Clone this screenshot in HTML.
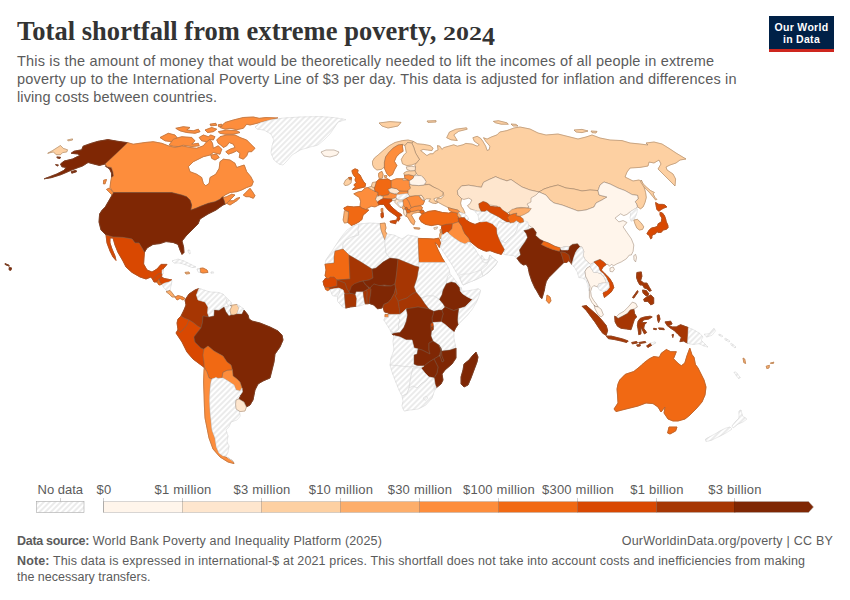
<!DOCTYPE html>
<html><head><meta charset="utf-8">
<style>
html,body{margin:0;padding:0;background:#fff;}
body{width:850px;height:600px;position:relative;overflow:hidden;font-family:"Liberation Sans",sans-serif;}
.abs{position:absolute;white-space:nowrap;}
#title{left:17px;top:14.8px;font-family:"Liberation Serif",serif;font-weight:bold;font-size:26.5px;line-height:32px;color:#333;letter-spacing:0.03px;}
.os{display:inline-block;position:relative;font-size:19.5px;width:9.75px;margin-right:3.2px;transform:scaleX(1.33);transform-origin:left bottom;line-height:1;}
.sub{left:17px;font-size:14.5px;line-height:18px;color:#5b5b5b;letter-spacing:0.19px;}
#logo{left:769px;top:16px;width:65px;height:33px;background:#002147;border-bottom:3px solid #ce261e;color:#fff;font-weight:bold;font-size:10.5px;line-height:12px;text-align:center;letter-spacing:0.3px;}
.lg{font-size:13px;color:#5b5b5b;line-height:14px;top:483px;letter-spacing:0.22px;}
.ft{font-size:12.5px;color:#5b5b5b;line-height:16px;}
.ft b{color:#5b5b5b;}
</style></head><body>
<div id="title" class="abs">Total shortfall from extreme poverty, <span class="os">2</span><span class="os">0</span><span class="os">2</span><span class="os" style="top:5.4px;font-size:24.5px;width:12.25px;transform:scaleX(1.06);margin-right:0">4</span></div>
<div class="abs sub" id="s1" style="top:52.4px">This is the amount of money that would be theoretically needed to lift the incomes of all people in extreme</div>
<div class="abs sub" id="s2" style="top:70.4px">poverty up to the International Poverty Line of $3 per day. This data is adjusted for inflation and differences in</div>
<div class="abs sub" id="s3" style="top:88.4px;letter-spacing:0.11px">living costs between countries.</div>
<div id="logo" class="abs"><div style="margin-top:5px" id="lg1">Our World</div><div id="lg2">in Data</div></div>
<svg id="map" class="abs" style="left:0;top:0" width="850" height="600" viewBox="0 0 850 600">
<defs>
<pattern id="hatch" width="4" height="4" patternUnits="userSpaceOnUse" patternTransform="rotate(45)"><rect width="4" height="4" fill="#fff"/><line x1="2" y1="0" x2="2" y2="4" stroke="#e5e5e5" stroke-width="1.5"/></pattern>
</defs>
<g stroke-linejoin="round" stroke-width="0.9">
<path d="M413.1 141.3L417.5 143.8L423.8 144.4L430 145.6L433.1 148.1L431.9 150.6L427.5 150L423.1 149.4L420.6 150.6L423.8 153.1L426.9 155.6L430 153.8L433.1 153.8L435 151.3L438.1 150L437.5 145.6L440 146.3L441.9 149.4L443.9 147.6L448.8 146.2L453.8 144.8L457.3 146.2L463 144.8L465.8 143.4L472.2 144.1L477.2 146.2L479.3 144.8L474.3 141.2L472.9 137.7L477.2 136.3L480.7 138.4L482.8 141.2L485.7 146.2L487.1 150.5L489.2 149.7L489.9 146.2L485.7 141.2L483.5 137.7L487.1 139.1L491.3 137L497 134.9L499.8 132L506.9 130.6L514 128L520 127L530 129L538 133L546 135L558 134L570 137L578 139L586 137L592 135L600 138L610 140L622 140.6L630 143L640 144L648 145L646 143L654 142L662 144L670 149L676 153L686 159L680 160L676 163L670 165L666 167L667 170L673 174L675.6 179L675 186L671 182L666 177L661 172L658 169L661 164L659 160L654 163L649 162L648 166L640 167.4L630 168L627 172L625 177L633 181L639 180L641.3 181.3L643.8 186.3L645.6 192.5L646.3 197.5L645 202.5L643.1 206.9L640.6 208.8L637.5 206.9L636.3 203.1L635 201.9L638.1 198.8L637.6 195.4L632 194.6L625 190.6L618 188L610 184L604 182L600 185L598 190.6L590 190L582 191L574 189L566 188L558 185L550 187L544 189L539 192L530 190L522 187L516 183L511 179.5L506.9 180.9L500.5 178.8L495.6 176.7L489.2 179.5L483.5 182.3L481.4 187.3L477.2 186.6L468.7 185.2L461.6 185.9L457.3 190.8L458 195L461.6 198.6L460.6 203.1L461.3 206.3L463.1 208.8L465 213.1L464.4 213.8L460.6 212.5L457.5 210L452.5 208.8L448.1 207.5L443 205L438.5 202.5L436 203L436.1 200.7L437.5 198.6L441 198.6L443.9 195.8L443.2 192.2L438.9 190.1L434 187.3L429.7 184.4L424.7 184.4L425.5 180.9L423.3 177.4L419.1 175.9L416.3 173.8L415 170.6L415.6 166.9L414.8 165L416.3 163.1L419.4 159.4L415.6 153.1L413.8 147.5L411.9 143.1Z" fill="#fdd0a2" stroke="#fdd0a2"/>
<path d="M446.7 137.7L449.5 132L455.9 129.2L466.5 127.8L467.2 129.2L458.7 131.3L453.8 134.9L457.3 140.5L451 139.8Z" fill="#fdd0a2" stroke="#fdd0a2"/>
<path d="M493.4 121.4L498.4 120.7L506.9 122.8L508.3 124.2L501.2 124.2L495.6 122.8Z" fill="#fdd0a2" stroke="#fdd0a2"/>
<path d="M511 124L516 124.4L518 126L513 126Z" fill="#fdd0a2" stroke="#fdd0a2"/>
<path d="M427 121L436 120.6L436 122L428 122.4Z" fill="#fdd0a2" stroke="#fdd0a2"/>
<path d="M574 130L582 129.4L588 131L582 132.6L576 132Z" fill="#fdd0a2" stroke="#fdd0a2"/>
<path d="M591 131L597 131.4L596 133L592 132.6Z" fill="#fdd0a2" stroke="#fdd0a2"/>
<path d="M641.3 180L643.1 183.8L646.9 187.5L650.6 190.6L654.4 192.5L653.1 193.8L655 197.5L656.9 199.4L655.6 200L653.1 196.9L650 193.1L646.3 189.4L643.1 185.6L640.6 181.9Z" fill="#fdd0a2" stroke="#fdd0a2"/>
<path d="M457.3 190.8L461.6 185.9L468.7 185.2L477.2 186.6L481.4 187.3L483.5 182.3L489.2 179.5L495.6 176.7L500.5 178.8L506.9 180.9L511 179.5L516 183L522 187L530 190L539 192L538 195L533 198L532 203L529 205L528 208L526 208L521 207.4L516 208L512 211L507 213L502 210L497 206L490 205L485 202L478.8 203.8L479.4 207.5L481.3 211.3L477.5 211.3L473.8 210L470 208.8L467.5 205.6L470 203.8L471.9 200L468.8 198.1L463.8 199.4L461.6 198.6L458 195Z" fill="#fee6ce" stroke="#fee6ce"/>
<path d="M539 192L544 189L550 187L558 185L566 188L574 189L582 191L590 190L598 190.6L599 195L607 197L602 200L596 203L594 207L586 210L578 211L570 208L562 205L554 203L550 200L546 195Z" fill="#fdd0a2" stroke="#fdd0a2"/>
<path d="M539 192L546 195L550 200L554 203L562 205L570 208L578 211L586 210L594 207L596 203L602 200L607 197L599 195L598 190.6L600 185L604 182L610 184L618 188L625 190.6L632 194.6L637.6 195.4L638.1 198.8L635 201.9L636.3 203.1L637.5 206.9L636.3 208.1L633.1 210L630 211.9L626.9 214.4L623.8 215.6L620.6 213.8L615 218.1L618.8 221.9L623.1 220.6L626.9 222.5L623.1 226.9L626.9 232.5L631.3 238.8L633.8 245L633.1 251.3L631.3 255L629.4 255L626.3 258.8L621.3 261.9L616.9 263.8L613.8 265.6L611.3 264.4L609.4 266.3L608.1 264.4L606.3 264.4L603.8 261.9L600 259.4L593.8 261.9L593.1 263.1L590.6 264.4L588.1 262.5L585 259.4L583.1 255.6L583.8 251.3L581.9 246.9L580 246.9L577.5 243.8L572.5 244.4L570 246.3L568.8 247L565 246.5L560.6 248.1L555 246.3L548.8 243.1L543.8 241.3L540 239.4L535.6 235.6L536.3 232.5L533.1 228.1L531 227L526 223L522 222L520 217L520 214L526 212L529 207L527 204L531 202L531 198L536 195Z" fill="#fff5eb" stroke="#fff5eb"/>
<path d="M610 268.1L613.1 266.9L614.4 269.4L612.5 271.9L610 271.3Z" fill="#fff5eb" stroke="#fff5eb"/>
<path d="M633.8 255.6L635.6 254.4L636.5 257.5L635.6 261.9L634 260Z" fill="#fff5eb" stroke="#fff5eb"/>
<path d="M630 211.9L633.1 210L636.3 208.1L637.5 209.4L636.9 212.5L635.6 216.3L633.8 220L631.3 221.3L630 218.1L630.6 215Z" fill="url(#hatch)" stroke="url(#hatch)"/>
<path d="M633.8 220L637.5 219.4L641.3 223.1L643.8 226.9L642.5 229.4L639.4 230L636.9 228.1L635 223.8Z" fill="#fdd0a2" stroke="#fdd0a2"/>
<path d="M655.6 202.5L658.8 204.4L662.5 204.4L665 205L666.9 206.9L663.8 208.1L661.3 209.4L658.8 211.3L656.9 209.4L656.3 206.9Z" fill="#d94801" stroke="#d94801"/>
<path d="M660 212.3L662.5 213.1L664.4 215.6L665.6 218.8L666.3 221.9L667.8 225L668.1 227.5L666.3 229.4L663.1 230L661.3 232.3L658.1 232.5L657 231.5L655.5 233.8L653.8 234.4L651.9 235.6L651.9 238.1L650.6 238.8L649.4 235.6L646.9 233.8L648.8 230.6L651.3 228.1L655 227.3L657.5 226.3L658.1 223.8L661.3 221.9L661.9 218.1L660 215Z" fill="#d94801" stroke="#d94801"/>
<path d="M496.3 227.5L499 221L503 223L506.9 221.9L509.4 221.9L514 221L519 218L524 219L522 220L518 224L517 230L514 235L510 238L505 243L498.8 238.8L496.9 233.8Z" fill="url(#hatch)" stroke="url(#hatch)"/>
<path d="M505 243L510 238L514 235L517 230L518 224L522 220L528 222L528.8 229.4L523.8 230.6L526.3 233.8L527.5 237.5L525 241.9L521.9 246.3L519.4 250L520.6 255L516.9 258.1L513.8 255.6L508 255L503.8 254.4L504.4 250L501.3 246L498.8 238.8Z" fill="url(#hatch)" stroke="url(#hatch)"/>
<path d="M523.8 230.6L528.8 229.4L533.1 228.1L536.3 232.5L535.6 235.6L540 239.4L543.8 241.3L541.3 244.4L546.3 246.9L552.5 249.4L559.4 251.3L560.6 248.1L561.3 250L568.1 250L570 246.3L572.5 244.4L577.5 243.8L580 246.9L577.5 249.4L575.6 252.5L573.8 257.5L571.9 264.4L570 260L568.8 255L565 252.5L560.6 251.9L562.5 257.5L563.8 262.5L561.3 265L557.5 268.8L552.5 273.8L548.8 277.5L546.3 281.3L545 286.3L544.4 290L542 298.6L540.5 297.5L538 293L536.3 290L535 288.1L531.9 281.3L529.4 273.8L528.1 267.5L526.3 264.4L523.1 265L520 262.5L516.9 258.1L520.6 255L519.4 250L521.9 246.3L525 241.9L527.5 237.5L526.3 233.8Z" fill="#7f2704" stroke="#7f2704"/>
<path d="M543.8 241.3L548.8 243.1L555 246.3L560 247.8L560.6 248.1L559.4 251.3L552.5 249.4L546.3 246.9L541.3 244.4Z" fill="#f16913" stroke="#f16913"/>
<path d="M560.6 248.1L565 246.5L568.8 247L568.1 250L561.3 250Z" fill="url(#hatch)" stroke="url(#hatch)"/>
<path d="M560.6 251.9L565 252.5L568.8 255L570 260L571.9 264.4L568.8 260.6L566.9 262.5L563.8 262.5L562.5 257.5Z" fill="#a63603" stroke="#a63603"/>
<path d="M547 295L550 297L551 301L549 303.4L546.4 300.6Z" fill="#fd8d3c" stroke="#fd8d3c"/>
<path d="M571.9 264.4L573.8 257.5L575.6 252.5L577.5 249.4L580 246.9L581.9 246.9L583.8 251.3L583.1 255.6L585 259.4L588.1 262.5L590.6 264.4L590 266.3L586.9 268.1L585 271.3L585.6 276.3L588.1 281.3L590 286.3L589.4 291.3L588.6 290L588 285L586 280L582.5 278.1L578.8 277.5L577.5 272.5L575 268.1Z" fill="url(#hatch)" stroke="url(#hatch)"/>
<path d="M585 271.3L586.9 268.1L590 266.3L591.9 269.4L593.8 272.5L597.5 272.5L601.3 273.8L604.4 277.5L606.3 281.9L606.3 283.1L602.5 283.1L598.8 283.8L597.5 286.9L593.8 285.6L591.9 287.5L590.6 291.3L591.3 296.3L593.8 300.6L596.3 303.8L598.1 306.9L595 306.3L591.9 302.5L589.4 297.5L589.4 291.3L590 286.3L588.1 281.3L585.6 276.3Z" fill="#fff5eb" stroke="#fff5eb"/>
<path d="M590 266.3L590.6 264.4L593.1 263.1L593.8 261.9L596.3 264.4L598.8 266.9L600 270.6L603.8 273.8L606.9 278.1L608.8 282.5L606.3 283.1L606.3 281.9L604.4 277.5L601.3 273.8L597.5 272.5L593.8 272.5L591.9 269.4Z" fill="url(#hatch)" stroke="url(#hatch)"/>
<path d="M593.8 261.9L600 259.4L603.8 261.9L606.3 264.4L603.1 266.9L601.3 270L605 273.8L609.4 278.1L612.5 283.1L613.8 287.5L611.3 291.9L607.5 295L604.4 297.5L603.1 293.1L606.9 290.6L609.4 287.5L608.8 282.5L606.9 278.1L603.8 273.8L600 270.6L598.8 266.9L596.3 264.4Z" fill="#d94801" stroke="#d94801"/>
<path d="M597.5 286.9L598.8 283.8L602.5 283.1L606.3 283.1L608.8 282.5L609.4 287.5L606.9 290.6L603.1 291.3L599.4 290Z" fill="url(#hatch)" stroke="url(#hatch)"/>
<path d="M594.2 305L595 306.3L598.1 306.9L601.2 309.2L603.4 314.8L601.2 317L597.7 314.1L594.9 308.5Z" fill="#fff5eb" stroke="#fff5eb"/>
<path d="M420 216.9L422.5 213.8L428.8 211.3L435 210.6L442.5 212.5L448.8 213.1L452.5 211.9L457.5 213.1L457.5 215.6L459.4 218.1L458.1 218.1L458.8 221.9L458.1 221.9L452.5 223.8L446.3 224.4L441.9 225.6L438.1 224.4L431.3 225.6L425.6 224.4L421.3 221.9L419.4 218.8Z" fill="#f16913" stroke="#f16913"/>
<path d="M448.1 207.5L452.5 208.8L457.5 210L460.6 212.5L458.8 212.5L457.5 213.1L452.5 211.9L449.4 210.6Z" fill="#fd8d3c" stroke="#fd8d3c"/>
<path d="M457.5 213.1L458.8 212.5L460.6 215L461.9 217.5L459.4 218.1L457.5 215.6Z" fill="#fdae6b" stroke="#fdae6b"/>
<path d="M460.6 212.5L464.4 213.8L467.5 216.3L468.8 219.4L466.3 220L464.4 217.5L461.9 217.5L460.6 215L458.8 212.5Z" fill="url(#hatch)" stroke="url(#hatch)"/>
<path d="M441.9 225.6L446.3 224.4L452.5 223.8L451.9 228.8L448.1 232.5L447 232L443 235L442.3 232L441.5 228.1Z" fill="#d94801" stroke="#d94801"/>
<path d="M440 229.6L441.6 230L441.6 232L440.4 232.4Z" fill="#fdae6b" stroke="#fdae6b"/>
<path d="M440.4 232.4L441.6 232L442 235L441.4 239L440 238L439.6 235Z" fill="#fdae6b" stroke="#fdae6b"/>
<path d="M452.5 223.8L458.1 221.9L458.8 221.9L461.9 226.3L463.1 230L465 233.8L468.8 238.1L470.6 241.9L469 242L465 244L460 242L454 238L449 234L448.1 232.5L451.9 228.8Z" fill="#fd8d3c" stroke="#fd8d3c"/>
<path d="M458.1 218.1L459.4 218.1L461.9 217.5L464.4 217.5L466.3 220L470 222.5L475 224.4L481.3 221.9L486.3 221.3L492.5 223.8L496.3 227.5L496.9 233.8L498.8 238.8L501.3 243.8L504.4 249.4L501.3 254.4L495 252.5L490 250.6L486.3 251.3L482.5 250L477.5 247.5L473.8 244.4L470.6 241.9L468.8 238.1L465 233.8L463.1 230L461.9 226.3L458.8 221.9Z" fill="#d94801" stroke="#d94801"/>
<path d="M440 246.5L441.4 243L441.4 239L442 235L443 235L447 232L449 234L454 238L460 242L465 244L469 242L472 245L475 249L478 254L481 258L481.5 255L483 257L485 260L488 260L490 255L491.5 257L495 259.5L497.5 261.5L495.5 265L492 269L489 272L483 276L477 279L471 281.5L465 284L463 285L461 281L458.5 276L455 270L451.5 264L447.5 258L443.5 252Z" fill="url(#hatch)" stroke="url(#hatch)"/>
<path d="M459.5 275L463 274L469 274L475 272L481 270L483 276L477 279L471 281.5L465 284L463 285L461 281Z" fill="url(#hatch)" stroke="url(#hatch)"/>
<path d="M481 270L487 265L489 260L490 255L491.5 257L495 259.5L497.5 261.5L495.5 265L492 269L489 272L483 276Z" fill="url(#hatch)" stroke="url(#hatch)"/>
<path d="M481 258L485 260L488 260L490 255L489 260L487 263L483 262Z" fill="url(#hatch)" stroke="url(#hatch)"/>
<path d="M467 243L469 242L470.5 244L468.6 245.4Z" fill="url(#hatch)" stroke="url(#hatch)"/>
<path d="M442 235L443 235L447 232L449 234L449 236L446 240L442 241.6L441.4 239Z" fill="url(#hatch)" stroke="url(#hatch)"/>
<path d="M473.8 210L477.5 211.3L481.3 211.3L485 211.3L486.9 210L490 212.5L495 215L498.8 216.9L502.5 219.4L506.9 221.9L503 223L499 221L496.3 227.5L492.5 223.8L486.3 221.3L481.3 221.9L480.6 221.9L478.8 220L478.1 215Z" fill="url(#hatch)" stroke="url(#hatch)"/>
<path d="M478.8 203.8L483.1 201.3L487.5 203.1L490 206.3L495 206.9L500 206.9L502.5 210L506.3 212.5L508.8 215L512 211L516 212L511 215L513 218L509.4 221.9L506.9 221.9L502.5 219.4L498.8 216.9L495 215L490 212.5L486.9 210L485 211.3L481.3 211.3L479.4 207.5Z" fill="#d94801" stroke="#d94801"/>
<path d="M507.5 217.5L510 215L513.1 213.8L516.9 213.1L516.3 215.6L520 216.3L523.1 218.8L523.8 221.9L520 223.1L516.3 220.6L513.8 222.5L510 223.1L508.8 220Z" fill="#f16913" stroke="#f16913"/>
<path d="M508.8 212.5L511.9 209.4L517.5 208.1L525 207.8L531.3 208.5L528.8 211.9L524.4 214.4L520 216.3L516.3 215.6L516.9 213.1L513.1 213.8L510 215Z" fill="#fdae6b" stroke="#fdae6b"/>
<path d="M582.1 306.3L586.4 305.6L592 310.6L598.4 316.2L602.7 321.2L606.2 325.5L607.6 330.4L606.2 335.4L602.7 333.2L599.1 328.3L594.9 321.9L590.6 316.2L586.4 310.6Z" fill="#a63603" stroke="#a63603"/>
<path d="M606.2 336.1L611.2 336.1L616.8 337.5L622.5 338.9L628.2 341L626.7 342.5L621.1 341L614.7 339.6L608.3 338.6Z" fill="#a63603" stroke="#a63603"/>
<path d="M631.7 342.5L636.7 341.5L637.4 342.9L632.4 343.9Z" fill="#a63603" stroke="#a63603"/>
<path d="M638.8 342.5L645.2 341.5L645.9 342.5L639.5 343.6Z" fill="#a63603" stroke="#a63603"/>
<path d="M636.7 344.9L640.2 344.6L640.2 346L637.4 346.3Z" fill="#a63603" stroke="#a63603"/>
<path d="M646.6 346L650.8 343.2L652 345L648 347.4Z" fill="#a63603" stroke="#a63603"/>
<path d="M650.8 343.2L655 341.7L655.8 342.9L652 345Z" fill="url(#hatch)" stroke="url(#hatch)"/>
<path d="M616.1 317L618.9 314.1L623.9 311.3L628.2 307L632.4 302.1L635.9 303.5L637.4 307L633.8 309.2L630.3 309.9L627.5 313.4L622.5 316.2L618.2 318.4Z" fill="#fff5eb" stroke="#fff5eb"/>
<path d="M614.7 316.2L616.1 317L618.2 318.4L622.5 316.2L627.5 313.4L630.3 309.9L633.8 309.2L634.5 313.4L636.7 317L634.5 319.1L633.1 323.3L631 329.7L626.7 329L621.1 328.3L617.5 326.2L615.1 321.9Z" fill="#a63603" stroke="#a63603"/>
<path d="M638.1 321.2L640.2 318.4L644.4 317L650.1 316.2L652.2 317L648.7 319.1L643.7 319.8L641.6 322.6L646.6 322.6L644.4 324.7L643.7 328.3L646.6 332.5L644.4 333.9L642.3 329.7L640.9 327.6L640.9 333.9L638.8 334.7L638.1 329L637.4 325.5Z" fill="#a63603" stroke="#a63603"/>
<path d="M657.2 315.5L659 314.8L660 319.1L658.6 322.6L657.6 319.8Z" fill="#a63603" stroke="#a63603"/>
<path d="M658.6 327.9L663.6 328.3L664.3 329.7L659.3 329.3Z" fill="#a63603" stroke="#a63603"/>
<path d="M653.7 328.3L656.5 328.7L656.2 329.7L653.7 329.4Z" fill="#a63603" stroke="#a63603"/>
<path d="M672 334.7L673.5 334.4L672.8 337.5Z" fill="#a63603" stroke="#a63603"/>
<path d="M665 321.9L670.7 321.2L672.1 324L668.5 325.5L672.1 326.9L676.3 326.9L680.6 324.7L688.4 327.6L687.6 343.2L683.4 341L679.9 341.7L681.3 337.5L677.7 334L674.2 330.4L670.7 328.3L667.1 325.5Z" fill="#a63603" stroke="#a63603"/>
<path d="M688.4 327.6L694 330L700 333.6L703 337L701 340L704 343L708 347L704 346L699 343.6L694 344.4L690 344L687.6 343.2Z" fill="url(#hatch)" stroke="url(#hatch)"/>
<path d="M704 334.4L709.4 333.5L713.8 328.2L715.6 330.9L712 335.3L706.8 337Z" fill="url(#hatch)" stroke="url(#hatch)"/>
<path d="M636.9 272.5L641.3 271.9L641.9 276.3L640.6 280.6L643.8 283.1L646.9 283.1L649.4 287.5L651.3 290.6L649.4 291.3L646.9 288.8L644.4 288.1L642.5 285L640 285L638.1 281.9L636.5 277.5Z" fill="#a63603" stroke="#a63603"/>
<path d="M642.5 290L646.3 290.6L648.8 293.8L647.5 296.3L645 295L643.1 293.1Z" fill="#a63603" stroke="#a63603"/>
<path d="M643.7 299.2L646.6 297.1L650.8 295L653.7 297.8L653.7 303.5L650.8 304.9L648 301.4L644.4 301.4Z" fill="#a63603" stroke="#a63603"/>
<path d="M632.5 297.5L637.5 290.6L638.1 291.9L633.8 298.1Z" fill="#a63603" stroke="#a63603"/>
<path d="M618 384L619.7 380L625.3 374.3L633.8 371.5L640.9 365.8L643.7 363L649.4 358.7L653.7 356.6L659.3 357.3L661.4 353.1L666.4 349.5L670.7 351.7L676.3 351.7L673.5 358.7L677.7 363L681.3 365.8L684.8 363L686.9 355.9L689.8 348.1L691.9 354.5L694 357.3L695.4 364.4L698 368L701 374L704 380L706 387L705 395L702 402L696 409L690 415L685 419L678 421L673 421L668 419L664 413L665 407L661 412L658 407L653 403.6L646 403L638 406L630 408L622 410L616 411.6L614 409L618 403L617.6 396L617 389Z" fill="#f16913" stroke="#f16913"/>
<path d="M669 427L677 427L675.6 431L670 434L667.6 433Z" fill="#f16913" stroke="#f16913"/>
<path d="M739 411L741 410L742.4 416L747 419L743 422L738 424L733 428L732 426L736 421L739 418Z" fill="url(#hatch)" stroke="url(#hatch)"/>
<path d="M730 427L732 429L726 433L718 437L712 440L706 441.6L705.6 439L712 435.6L720 431L726 428Z" fill="url(#hatch)" stroke="url(#hatch)"/>
<path d="M734 372.4L735.9 372L740.3 377.6L738.5 378.5Z" fill="url(#hatch)" stroke="url(#hatch)"/>
<path d="M743 358L744.7 359L745.6 363.5L743.8 362.6Z" fill="#fdae6b" stroke="#fdae6b"/>
<path d="M766.2 366.2L769.4 365.3L769 368L766.8 368.5Z" fill="#fdae6b" stroke="#fdae6b"/>
<path d="M770.3 363.2L773.8 362.1L773.3 363.5Z" fill="#fdae6b" stroke="#fdae6b"/>
<path d="M719 334L723 336L722 337L718.6 335Z" fill="url(#hatch)" stroke="url(#hatch)"/>
<path d="M725 338L730 341L729 342L724.6 339.4Z" fill="url(#hatch)" stroke="url(#hatch)"/>
<path d="M731 343L736 347L735 348L730.6 344.4Z" fill="url(#hatch)" stroke="url(#hatch)"/>
<path d="M379 123L390 121.6L401 122.4L398 126L388 128L382 126Z" fill="#fdd0a2" stroke="#fdd0a2"/>
<path d="M372.5 161.3L374.4 158.1L378.8 154.4L383.8 150L389.4 145.6L395 142.5L402.5 140.6L408.1 140L413.1 141.3L411.9 143.1L407.5 142.5L405 145.6L402.5 144.4L398.1 145L393.1 148.1L388.8 152.5L385.6 156.9L384.4 162.5L384.4 168.1L383.8 167.5L381.3 169.4L376.9 170L373.8 167.5L372.5 164.4Z" fill="#fdd0a2" stroke="#fdd0a2"/>
<path d="M398.1 145L402.5 144.4L402.5 146.9L403.1 151.3L400 153.1L396.3 156.9L394.4 161.3L396.9 165.6L394.4 170L392.5 174.4L389.4 176.3L386.9 173.8L384.4 168.1L384.4 162.5L385.6 156.9L388.8 152.5L393.1 148.1Z" fill="#fd8d3c" stroke="#fd8d3c"/>
<path d="M405 145.6L407.5 142.5L411.9 143.1L413.8 147.5L415.6 153.1L419.4 159.4L416.3 163.1L411.9 165L406.9 165.6L402.5 163.8L401.3 159.4L403.8 155L406.3 152.5L405.6 148.8Z" fill="#fdd0a2" stroke="#fdd0a2"/>
<path d="M351.9 170.6L355 168.8L358.1 170L357.5 173.1L360 175L361.9 178.8L363.8 181.9L365.6 183.8L365 186.9L360 188.1L355 189.4L352.5 189.4L355.6 186.9L353.8 185L356.3 182.5L355 180L355.6 177.5L353.8 175.6L352.5 173.1Z" fill="#f16913" stroke="#f16913"/>
<path d="M348.5 177.5L351.3 177.3L351.5 179.4L349.4 179.8Z" fill="#f16913" stroke="#f16913"/>
<path d="M343.8 183.8L345.6 180L348.5 178.1L349.4 179.8L351.5 180L351 183.1L348.1 185L345 185.6Z" fill="#fdd0a2" stroke="#fdd0a2"/>
<path d="M353.8 193.8L358.1 191.9L361.9 191.3L365 188.1L368.1 187.5L371.3 189.4L375 191.3L378.1 192.5L376.9 196.3L375.6 199.4L377.5 201.9L378.8 205L375 206.9L371.3 206.3L368.8 207.5L365.6 209.4L361.9 208.1L360 206.5L360.6 201.3L359.4 197.5L356.3 195.6Z" fill="#fd8d3c" stroke="#fd8d3c"/>
<path d="M381 208.8L382.8 208.4L382.8 211.9L381.3 211.9Z" fill="#fd8d3c" stroke="#fd8d3c"/>
<path d="M343.8 208.1L347.5 206.3L353.8 206.9L360 206.5L361.9 208.1L365.6 209.4L368.8 210L366.3 212.5L363.1 215L361.9 219.4L360 221.3L355.6 223.8L351.3 225.6L348.8 223.1L347.5 222.5L348.1 217.5L348.5 211.9L345 210.6Z" fill="#f16913" stroke="#f16913"/>
<path d="M344.4 211.3L345 210.6L348.5 211.9L348.1 217.5L347.5 222.5L344.4 223.1L343.1 220L343.8 215.6Z" fill="#fdae6b" stroke="#fdae6b"/>
<path d="M368.1 187.5L371.3 186.3L374.4 188.1L375 191.3L371.3 189.4Z" fill="#fdd0a2" stroke="#fdd0a2"/>
<path d="M371.3 186.3L372.5 182.5L376.3 181.9L375.6 185L374.4 188.1Z" fill="#fdd0a2" stroke="#fdd0a2"/>
<path d="M376.3 181.9L378.8 179.4L383.1 179.4L387.5 178.8L390.6 180.6L391.3 180.6L391.3 186.9L391.9 187.8L388.1 189.4L390 192.5L388.1 195L383.8 195.6L380 195.6L378.1 196.3L378.1 192.5L375 191.3L374.4 188.1L375.6 185Z" fill="#f16913" stroke="#f16913"/>
<path d="M378.8 173.1L381.9 171.3L383.1 174.4L382.5 178.1L379.4 178.8L378.5 175.6Z" fill="#fdae6b" stroke="#fdae6b"/>
<path d="M384.4 175.6L386.9 175.6L386.5 177.5L384.8 177.5Z" fill="#fdae6b" stroke="#fdae6b"/>
<path d="M375.6 199.4L376.9 196.3L378.1 196.3L380 195.6L383.1 196.9L383.1 198.5L380.6 199.8L377.5 201.9Z" fill="#fee6ce" stroke="#fee6ce"/>
<path d="M383.1 196.9L383.8 195.6L388.1 195L390 192.5L394.4 193.8L396.9 194.8L396.9 195.3L396.3 198.1L395.6 197.8L391.9 199L387.5 198.8L383.1 198.5Z" fill="#fd8d3c" stroke="#fd8d3c"/>
<path d="M388.1 189.4L391.9 187.8L396.9 188.8L398.8 190.6L400 191.3L398.1 193.1L394.4 193.8L390 192.5Z" fill="#fee6ce" stroke="#fee6ce"/>
<path d="M391.3 180.6L396.3 178.8L402.5 178.8L405 178.8L408.1 180L409.4 181.3L409.4 184.4L410.6 188.1L408.1 190.6L408.1 191.3L402.5 191.3L398.8 190.6L396.9 188.8L391.9 187.8L391.3 186.9Z" fill="#fd8d3c" stroke="#fd8d3c"/>
<path d="M398.1 193.1L400 191.3L402.5 191.3L408.1 191.3L408.1 193.8L406.9 193.8L403.1 194L399.4 194.8L396.9 194.8Z" fill="#fd8d3c" stroke="#fd8d3c"/>
<path d="M396.9 195.3L396.9 194.8L399.4 194.8L403.1 194L406.9 193.8L408.1 193.8L408.8 195L410 196.3L406.3 198.1L403.1 200L402.5 200L398.8 200L396.9 199L396.3 198.1Z" fill="url(#hatch)" stroke="url(#hatch)"/>
<path d="M377.5 201.9L380.6 199.8L383.1 198.5L387.5 198.8L391.9 199L392.3 200.6L391.3 201.3L388.8 203.1L390.6 205.6L393.8 208.8L397.5 211.9L401.3 214.4L401.9 215.6L399.4 216.3L400 218.8L398.1 221.3L396.9 219.4L397.5 216.9L395 215L391.3 212.5L388.1 210L385.6 206.9L383.8 204.4L380 204.4L378.8 205Z" fill="#d94801" stroke="#d94801"/>
<path d="M390 221.3L393.8 220.6L396.9 220L395.6 223.8L393.1 223.1L390.6 222.5Z" fill="#d94801" stroke="#d94801"/>
<path d="M381 213.1L383.1 212.5L383.5 216.9L381.9 218.1L381 216.3Z" fill="#d94801" stroke="#d94801"/>
<path d="M391.9 199L395.6 197.8L396.3 198.1L396.9 199L395 200.6L392.3 200.6Z" fill="#fee6ce" stroke="#fee6ce"/>
<path d="M395 200.6L396.9 199L398.8 200L402.5 200L403.1 200L403.1 201.9L400 201.9L397.5 202.5L398.8 205L401.9 207.5L400 207.5L396.9 204.4L395 202.5Z" fill="#fee6ce" stroke="#fee6ce"/>
<path d="M397.5 202.5L400 201.9L403.1 201.9L403.5 205L401.9 207.5L398.8 205Z" fill="url(#hatch)" stroke="url(#hatch)"/>
<path d="M403.1 200L406.3 198.1L408.8 201.3L410 204.4L411.3 207.5L410 209.4L409.4 209.8L407.8 209.4L406.9 207.3L405 207.5L403.5 205.6L403.5 205L403.1 201.9Z" fill="#fd8d3c" stroke="#fd8d3c"/>
<path d="M401.9 207.5L403.5 205.6L405 207.5L405 207.8L404.4 209.4L403.5 209.8Z" fill="#fdae6b" stroke="#fdae6b"/>
<path d="M405 207.8L406.9 207.3L407.8 209.4L406.3 210.3L405.6 210Z" fill="#f16913" stroke="#f16913"/>
<path d="M403.5 209.8L404.4 209.4L405.6 210L406.3 210.3L406.9 213.1L406.9 213.8L406 216.3L404 214.4L403.5 211.9Z" fill="#fee6ce" stroke="#fee6ce"/>
<path d="M406.3 210.3L407.8 209.4L409.4 209.8L411.3 211.5L409.4 213.1L406.9 213.1Z" fill="#f16913" stroke="#f16913"/>
<path d="M406.9 213.8L406.9 213.1L409.4 213.1L411.3 211.5L415 211L418.1 210L420 210.6L420 212.5L417.5 212.5L413.8 213.1L411.3 215L413.1 218.1L415 221.3L413.8 225L411.3 223.1L409.4 220L407.5 216.9L406 216.3Z" fill="#fdae6b" stroke="#fdae6b"/>
<path d="M413.8 227.5L420 228.1L419.4 229.2L414.4 228.7Z" fill="#fdae6b" stroke="#fdae6b"/>
<path d="M411.3 207.5L415 206.3L420 205.6L422.5 207.5L421.3 210L420 210.6L418.1 210L415 211L411.3 211.5L409.4 209.8L410 209.4Z" fill="#fd8d3c" stroke="#fd8d3c"/>
<path d="M406.3 198.1L410 196.3L415 195.6L418.8 195.6L421.3 198.8L422.5 200L424.4 200.6L424.4 201.3L423.1 204.4L420 205.6L415 206.3L411.3 207.5L410 204.4L408.8 201.3Z" fill="#fd8d3c" stroke="#fd8d3c"/>
<path d="M418.8 195.6L421.3 195L423.8 198.1L424.4 200.6L422.5 200L421.3 198.8Z" fill="#fee6ce" stroke="#fee6ce"/>
<path d="M410.6 188.1L409.4 184.4L410 184.4L412.5 185L418.8 185.6L423.8 185L428.8 184.4L433.1 186.9L438.8 189.4L443.1 192.5L442.5 195.6L438.8 197.5L435.6 198.1L433.8 198.8L435 201.3L438 201.6L436 203.6L432.5 203.1L428.8 201.3L430.6 198.8L426.3 198.8L424.4 200.6L423.8 198.1L421.3 195L418.8 195.6L415 195.6L410 196.3L408.8 195L408.1 193.8L408.1 190.6Z" fill="#fdd0a2" stroke="#fdd0a2"/>
<path d="M409.4 181.3L409.4 180.6L413.1 178.1L413.8 175.8L416.3 175.6L421.3 175.6L424.4 178.8L426.3 181.9L423.8 185L418.8 185.6L412.5 185L410 184.4Z" fill="#fff5eb" stroke="#fff5eb"/>
<path d="M404.4 175L408.8 174.6L413.8 175.8L413.1 178.1L412.5 178.8L409.4 180.6L408.1 180L405 178.8Z" fill="#fd8d3c" stroke="#fd8d3c"/>
<path d="M403.8 173.1L406.9 171.3L410.6 170.8L415 170.6L416.3 173.8L413.8 175.8L408.8 174.6L404.4 175Z" fill="#fdd0a2" stroke="#fdd0a2"/>
<path d="M406.3 166.9L411.3 166.3L415.6 166.9L415 170.6L410.6 170.8L406.9 169.4Z" fill="#fee6ce" stroke="#fee6ce"/>
<path d="M402.5 178.8L405 178.8L408.1 180L403 180.4Z" fill="#fdd0a2" stroke="#fdd0a2"/>
<path d="M420 210.6L423.1 210L424.4 212.3L421.9 213.8L420 212.5Z" fill="#f16913" stroke="#f16913"/>
<path d="M433.8 227.8L437.5 226.9L436.9 228.8L434.4 229.4Z" fill="#fee6ce" stroke="#fee6ce"/>
<path d="M353 226L359 224L358 230L359 235L352 237L346 240L343 244L343 249L335 251L334 257L334 263L325 264L326 260L330 254L334 248L338 242L342 236L347 230Z" fill="url(#hatch)" stroke="url(#hatch)"/>
<path d="M359 224L370 223L380 223.6L381 230L384 238L385 240L385 245L386 253L390 258L383 262L376 268L372 269L361 262L349 255L343 249L343 244L346 240L352 237L359 235L358 230Z" fill="url(#hatch)" stroke="url(#hatch)"/>
<path d="M380 223.6L385 223L386 228L385 231L387 234L385 240L384 238L381 230Z" fill="#fdae6b" stroke="#fdae6b"/>
<path d="M387 234L394 235L402 239L408 235L418 237L419 260L419 267L415 266L398 259L390 258L386 253L385 245L385 240Z" fill="url(#hatch)" stroke="url(#hatch)"/>
<path d="M418.1 238.4L426 238.6L434 239L438.8 238.1L440.6 243.1L439.4 247.5L437.5 244.4L435 242.5L438.1 250L441.9 257.5L445 262.5L419 262.5L419 260Z" fill="#f16913" stroke="#f16913"/>
<path d="M419 262.4L445.5 262.4L449 269L450 273.8L447.5 276.3L447 280L446.3 283.8L445 286.3L443.1 290L441.9 295L439.4 299.4L434 296L427 296L421 298L416 292L414 287L417 278L418 272L419 267Z" fill="url(#hatch)" stroke="url(#hatch)"/>
<path d="M421 298L427 296L434 296L439.4 299.4L443.1 303.8L445 306.9L441.9 310L438.8 310L433.8 311.3L429 309L425 304Z" fill="url(#hatch)" stroke="url(#hatch)"/>
<path d="M447.5 276.3L450 273.8L453.1 277.5L456.9 282.5L460 286.9L459.4 288.1L459.4 287.5L455.6 283.1L451.3 281.9L446.3 283.8L447 280Z" fill="url(#hatch)" stroke="url(#hatch)"/>
<path d="M459.4 288.1L461.3 287.5L461.9 290L460 290.6L459.4 287.5Z" fill="url(#hatch)" stroke="url(#hatch)"/>
<path d="M446.3 283.8L451.3 281.9L455.6 283.1L459.4 287.5L460 290.6L462.5 293.8L467.5 296.9L472.5 299.4L468.8 303.1L465 306.9L458.8 308.8L453.8 310.6L449.4 308.8L445 306.9L443.1 303.8L439.4 299.4L441.9 295L443.1 290L445 286.3Z" fill="#7f2704" stroke="#7f2704"/>
<path d="M460 290.6L465 291.3L472.5 290L478.1 288.8L480.6 290L479.4 295L476.3 302.5L472.5 308.8L467.5 315L462.5 320L458.8 323.8L458.1 324.4L457.5 320L458.1 313.1L458.8 308.8L465 306.9L468.8 303.1L472.5 299.4L467.5 296.9L462.5 293.8Z" fill="url(#hatch)" stroke="url(#hatch)"/>
<path d="M445 306.9L449.4 308.8L453.8 310.6L458.8 308.8L458.1 313.1L457.5 320L458.1 324.4L455.6 328.1L453.8 331.9L450 328.8L445 324.4L441.3 321.9L441.9 318.1L443.1 313.8L441.9 310Z" fill="#7f2704" stroke="#7f2704"/>
<path d="M433.8 311.3L438.8 310L441.9 310L443.1 313.8L441.9 318.1L441.3 321.9L436.9 322.3L432.5 322.5L431.9 318.1L433.1 314.4Z" fill="#7f2704" stroke="#7f2704"/>
<path d="M432.5 322.5L436.9 322.3L441.3 321.9L445 324.4L450 328.8L453.8 331.9L454 339L456 348L450 350L442 351L439 345L433 341L431 336L431.3 332.5L431.5 331.3L433.5 329.4L433.5 326.3L433.1 323.5Z" fill="url(#hatch)" stroke="url(#hatch)"/>
<path d="M430.6 323.8L432.5 322.5L433.1 323.5L433.5 326.3L431.3 326.9Z" fill="#d94801" stroke="#d94801"/>
<path d="M430.6 327.3L431.3 326.9L433.5 326.3L433.5 329.4L431.5 331.3Z" fill="#a63603" stroke="#a63603"/>
<path d="M335 251L343 249L349 255L350 279L337 280L334 277L328 279L325 276L326 270L325 264L334 263L334 257Z" fill="#f16913" stroke="#f16913"/>
<path d="M349 255L361 262L372 269L373 278L369 280L363 281L359 282L355 287L352 290L349 292L347 289L345 283L337 280L350 279Z" fill="#a63603" stroke="#a63603"/>
<path d="M323.1 281.3L325.6 278.1L328 279L330 276.9L334 277L337 280L337 286L330.6 287.5L325 287.5L323.8 285Z" fill="#d94801" stroke="#d94801"/>
<path d="M325 287.5L329.4 287.8L330 289.4L327.5 290.6L325.6 289.4Z" fill="#f16913" stroke="#f16913"/>
<path d="M329.4 287.8L330.6 287.5L337 286L337 280L345 283L347 289L349 292L351 294L350.6 293.1L347 294L344.4 293.8L343.1 290L338.8 288.1L333.8 288.8L330 289.4Z" fill="#a63603" stroke="#a63603"/>
<path d="M330 289.4L333.8 288.8L338.8 288.1L340 292L337.5 296.5L332.5 295.6Z" fill="url(#hatch)" stroke="url(#hatch)"/>
<path d="M338.8 288.1L343.1 290L344.4 293.8L345 302.5L345.6 308.1L342.5 306.9L337.5 301.3L337.5 296.5L340 292Z" fill="url(#hatch)" stroke="url(#hatch)"/>
<path d="M344.4 293.8L347 294L350.6 293.1L355.6 294.4L356.9 298.8L356.3 306.3L350.6 306.9L345.6 308.1L345 302.5Z" fill="#a63603" stroke="#a63603"/>
<path d="M351.3 286.3L354.4 283.8L359 282L363 281L365.6 285L368.8 288.1L370 288L366.3 290L363.1 291.9L356.3 291.9L355.6 294.4L350.6 293.1L351 294L349 292L350.6 288.8Z" fill="#7f2704" stroke="#7f2704"/>
<path d="M356.3 291.9L363.1 291.9L363.8 297.5L365 303.8L361.3 305.6L356.3 306.3L356.9 298.8L355.6 294.4Z" fill="url(#hatch)" stroke="url(#hatch)"/>
<path d="M363.1 291.9L366.3 290L367.3 291.9L366.9 297.5L367.3 303.8L365 303.8L363.8 297.5Z" fill="#a63603" stroke="#a63603"/>
<path d="M366.3 290L370 288L371 289.4L370.6 294.4L369.8 298.8L369.4 303.5L367.3 303.8L366.9 297.5L367.3 291.9Z" fill="#a63603" stroke="#a63603"/>
<path d="M372 269L376 268L383 262L390 258L398 259L397 270L396 278L395 284L391 286L384 285L378 286L374 284L371 287L370 288L366 285L363 281L369 280L373 278Z" fill="#7f2704" stroke="#7f2704"/>
<path d="M370 288L371 287L372.5 285L374 284L378.8 285.4L385 286L391 286L395 284L395.6 288.1L394.4 293.1L391.3 298.8L388.1 302.5L383.8 304.4L381.9 308.1L377.5 308.8L373.8 305L369.4 303.5L369.8 298.8L370.6 294.4L371 289.4Z" fill="#7f2704" stroke="#7f2704"/>
<path d="M398 259L415 266L419 267L418 272L417 278L414 287L416 292L412 294L407 298L401 300L398.1 301.3L395 295.6L396.9 293.8L395.6 288.1L395 284L396 278L397 270Z" fill="#a63603" stroke="#a63603"/>
<path d="M395.6 288.1L396.9 293.8L395 295.6L398.1 301.3L399.4 308.8L400 314.4L393.8 314.4L388.8 314.4L388.8 313.1L384.4 311.9L383.1 307.5L383.8 304.4L388.1 302.5L391.3 298.8L394.4 293.1Z" fill="#a63603" stroke="#a63603"/>
<path d="M398.1 301.3L401 300L407 298L412 294L416 292L421 298L425 304L429 309L424 308L418 307L412 308L406.3 308.8L402.5 312.5L400 314.4L399.4 308.8Z" fill="#a63603" stroke="#a63603"/>
<path d="M385 314.4L388.5 314.4L388.5 317.3L385 317.3Z" fill="#fd8d3c" stroke="#fd8d3c"/>
<path d="M385 317.3L388.5 317.3L388.8 314.4L393.8 314.4L398 314.4L398.5 318L400 320L398.5 325L399 329L395 332.5L391.9 333.1L389.4 328.8L386.3 323.8L383.8 320Z" fill="url(#hatch)" stroke="url(#hatch)"/>
<path d="M398 314.4L400 314.4L402.5 312.5L406.3 308.8L407.5 315L406.3 321.3L403.8 327.5L400 332.5L395 333.1L391.9 333.8L391.9 333.1L395 332.5L399 329L398.5 325L400 320L398.5 318Z" fill="url(#hatch)" stroke="url(#hatch)"/>
<path d="M406.3 308.8L412 308L418 307L424 308L429 309L433.8 311.3L433.1 314.4L431.9 318.1L432.5 322.5L430.6 323.8L430.6 327.3L431.5 331.3L431.3 332.5L431 336L433 341L429 343L429 350L430 354L426 352L422 350L418 349L414 348L412 340L406 340L400 337L393.8 335.6L391.9 333.8L395 333.1L400 332.5L403.8 327.5L406.3 321.3L407.5 315Z" fill="#7f2704" stroke="#7f2704"/>
<path d="M393.8 335.6L400 337L406 340L412 340L414 348L418 349L417 354L414 355L414 364L418 366L410 367L400 366L390 365L391 358L394 350L393 342Z" fill="url(#hatch)" stroke="url(#hatch)"/>
<path d="M418 349L422 350L426 352L430 354L429 350L429 343L433 341L439 345L441 350L439 356L434 359L429 362L424 366L418 366L414 364L414 355L417 354Z" fill="#7f2704" stroke="#7f2704"/>
<path d="M439 345L441 348L442 356L444 361L442 362L440.4 357L441 350Z" fill="#7f2704" stroke="#7f2704"/>
<path d="M441 350L442 351L450 350L456 348L456 358L452 364L445 370L442 374L443 380L441 384L436 388L435 384L434 378L437 373L438 367L434 359L439 356L440.4 357L442 362L444 361L442 356L441 348Z" fill="#7f2704" stroke="#7f2704"/>
<path d="M424 366L429 362L434 359L438 367L437 373L434 378L429 377L425 373L421 368Z" fill="#7f2704" stroke="#7f2704"/>
<path d="M390 365L400 366L410 367L418 366L424 366L421 368L413 368L411 376L409 388L407 394L402 396L399 390L395 380L392 372Z" fill="url(#hatch)" stroke="url(#hatch)"/>
<path d="M413 368L421 368L425 373L429 377L426 381L421 384L417 388L413 386L409 388L411 376Z" fill="url(#hatch)" stroke="url(#hatch)"/>
<path d="M402 396L407 394L409 388L413 386L417 388L421 384L426 381L429 377L434 378L435 384L436 388L434 392L432 398L426 405L418 409L410 410L404 411L402 406L403 401Z" fill="url(#hatch)" stroke="url(#hatch)"/>
<path d="M423 398L426 396L428 398L425 400.6Z" fill="url(#hatch)" stroke="url(#hatch)"/>
<path d="M434 386L436 386L436 389L434 389Z" fill="url(#hatch)" stroke="url(#hatch)"/>
<path d="M476 352L478 357L477 362L474 370L471 378L468 385L464 387L461 384L461 377L463 370L464 364L469 360L473 355Z" fill="#7f2704" stroke="#7f2704"/>
<path d="M391 331L392.6 331.6L392.4 333.4L391.2 333Z" fill="url(#hatch)" stroke="url(#hatch)"/>
<path d="M127.7 142.7L117.8 141.3L107.9 139.6L98 141.3L90.9 143.4L83.1 146.2L81.7 149.8L73.9 151.2L71.1 153.3L78.2 154L79.6 155.5L72.5 159L64 161.1L60.5 164L61.9 166.8L66.1 167.5L64 170.3L56.9 173.9L49.8 176.7L44.2 178.8L51.2 177.7L61.2 174.6L71.1 170.3L78.2 167.5L82.4 166.1L88.1 162.5L93.7 164L99.4 165.4L105.1 164L107.2 166.8L111.4 167.5L112.9 171.7L113.6 176L111.6 177.4L111.6 173.2L109.6 169L105.5 166.2Z" fill="#7f2704" stroke="#7f2704"/>
<path d="M56.9 156.9L60.5 157.3L60 158.4L57.2 157.9Z" fill="#7f2704" stroke="#7f2704"/>
<path d="M55.5 164.7L58.3 164.9L57.6 166.1Z" fill="#7f2704" stroke="#7f2704"/>
<path d="M71.1 171.7L76 170.3L76.5 171.7L71.8 173.2Z" fill="#7f2704" stroke="#7f2704"/>
<path d="M47.7 153.3L52.7 150.5L60.5 145.5L63.3 148.4L67.5 149.8L66.8 151.9L62.6 152.6L60.5 154.7L56.2 154.7L53.4 151.9Z" fill="#fdd0a2" stroke="#fdd0a2"/>
<path d="M67.5 139.9L72.5 138.9L72.5 140L68.2 140.9Z" fill="#fdd0a2" stroke="#fdd0a2"/>
<path d="M127.7 142.7L133.3 144.2L145 142.5L153.3 141.7L161.7 143.3L168.3 145.8L175 147.5L181.7 145.8L190 147.5L196.7 148.3L203.3 145.8L206.7 141.7L210 139.2L212.5 143.3L213.3 148.3L218.3 145.8L221.7 149.2L220 154.2L213.3 152.5L210 155L203.3 156.7L193.3 161.7L188.3 166.7L190 171.7L196.7 174.2L201.7 177.5L203.3 183.3L205.8 185.8L209.2 183.3L210 177.5L215.8 174.2L219.2 168.3L220 161.7L223.3 159.2L230 160L235 163.3L236.7 167.5L241.7 165.8L244.2 165L246.7 171.7L250.8 176.7L253.3 181.7L251.7 185.8L246.7 187.5L241.7 190L236.7 191.7L230 192.5L225 195L221.5 198L226.7 196.7L231.7 194.2L235 195L231.7 198.3L229.2 200.8L226.7 203.3L225 204.2L224.2 200.8L222.5 196.7L220 199.2L215 201.7L208.3 203.3L201.7 205.8L195.8 208.3L190.8 210L191.7 205L190 200L186.7 196.7L181.7 195L171.7 192.5L113.6 192.5L110 187.3L110.7 181.7L111.6 177.4L113.6 176L112.9 171.7L111.4 167.5L107.2 166.8L105.1 164Z" fill="#fd8d3c" stroke="#fd8d3c"/>
<path d="M106.5 189.4L109.3 188L113.6 193L112.2 195.1L108.6 191.6Z" fill="#fd8d3c" stroke="#fd8d3c"/>
<path d="M103.7 180.2L106.5 179.5L105.1 183.8L103.4 183.8Z" fill="#fd8d3c" stroke="#fd8d3c"/>
<path d="M243.3 195L246.7 191.7L250 188.3L252.5 191.7L255 195.8L253.3 198.3L249.2 196.7L245.8 196.7Z" fill="#fd8d3c" stroke="#fd8d3c"/>
<path d="M226.7 203.3L230 205L236.7 200.8L240 197.5L236.7 198.3L233.3 200.8L229.2 200.8Z" fill="#fd8d3c" stroke="#fd8d3c"/>
<path d="M220 127.5L225 122.5L233.3 120L243.3 117.5L253.3 117L259.2 118.3L266 117.6L278 118L266 121L256 123.5L250 125L246.7 124.2L243.3 128.3L236.7 129.7L230 128.3L225 129.2Z" fill="#fd8d3c" stroke="#fd8d3c"/>
<path d="M175.8 128.3L183.3 126.7L190 127.5L186.7 130L193.3 130.8L198.3 129.2L200 131.7L195 133.3L186.7 132.5L180 130.8Z" fill="#fd8d3c" stroke="#fd8d3c"/>
<path d="M205 130L211.7 127.5L216.7 129.2L213.3 131.7L207.5 132.5Z" fill="#fd8d3c" stroke="#fd8d3c"/>
<path d="M210 124.2L215.8 123.3L216.7 125.3L210.8 125.8Z" fill="#fd8d3c" stroke="#fd8d3c"/>
<path d="M218.3 124.7L221.7 124.2L222 126.3L218.7 126.7Z" fill="#fd8d3c" stroke="#fd8d3c"/>
<path d="M199.2 137.5L203.3 135L208.3 136.7L210.8 135L215 136.7L213.3 140L210 139.2L206.7 141.7L201.7 140.8Z" fill="#fd8d3c" stroke="#fd8d3c"/>
<path d="M160 137.5L168.3 133.3L175 135L177.5 138.3L171.7 141.7L165 140.8Z" fill="#fd8d3c" stroke="#fd8d3c"/>
<path d="M169.2 145L173.3 139.2L181.7 136.7L191.7 137.5L195 140.8L191.7 144.2L198.3 143.3L199.2 145.8L191.7 146.5L183.3 145.2L178.3 146.6L173.3 146.2Z" fill="#fd8d3c" stroke="#fd8d3c"/>
<path d="M218.3 131.7L226.7 130L236.7 130.8L240 132.5L233.3 134.2L225 134.2L220 133.3Z" fill="#fd8d3c" stroke="#fd8d3c"/>
<path d="M216.7 140L220 136.7L226.7 135L235 135L240 137.5L246.7 140L250.8 144.2L255 148.3L251.7 151.7L248.3 151.7L246.7 155.8L243.3 159.2L239.2 157.5L240 153.3L236.7 150.8L233.3 152.5L228.3 154.2L225.8 151.7L230 149.2L235 147.5L233.3 144.2L229.2 142.5L226.7 145.8L223.3 147.5L220.8 145L218.3 143.3Z" fill="#fd8d3c" stroke="#fd8d3c"/>
<path d="M210.8 155L216.7 154.2L219.2 157.5L215 160L211.7 158.3Z" fill="#fd8d3c" stroke="#fd8d3c"/>
<path d="M255 127L260 123L270 120L284 118L300 117L320 116.6L334 117.6L346 119.6L338 122L334 128L330 134L324 140L318 145L310 147L300 150L292 155L286 162L283 165L279 164L274 160L271 153L272 146L274 140L271 134L264 130L257 129Z" fill="url(#hatch)" stroke="url(#hatch)"/>
<path d="M321 152L326 150L334 150L339 152L337 155L330 157L324 156Z" fill="#fff5eb" stroke="#fff5eb"/>
<path d="M113.6 192.5L171.7 192.5L181.7 195L186.7 196.7L190 200L191.7 205L190.8 210L195.8 208.3L201.7 205.8L208.3 203.3L215 201.7L220 199.2L222.5 196.7L224.2 200.8L225 204.2L223 205L216 210L208 214L200 219L198 224L192 230L186 236L182 241L183.6 247L184 252.4L182 254.4L180 250L178 244.4L173 242.4L166 241.6L160 243.6L153 244.4L147 248L144.4 252.4L142 248L139 243L135 243L132 239L123 237.4L113 237L106 235L101 230L99 222L99.6 214L102.2 210L105.1 207.2L109.3 200Z" fill="#7f2704" stroke="#7f2704"/>
<path d="M9.2 267.5L11.7 268L10.8 270.3L9.2 270Z" fill="#7f2704" stroke="#7f2704"/>
<path d="M5 263.6L9 265.2L9.2 266.2L5 264.4Z" fill="#7f2704" stroke="#7f2704"/>
<path d="M106 235L113 237L123 237.4L132 239L135 243L139 243L142 248L144.4 252.4L144 258L143.6 264L147 270L152 272L157 269L161 264.4L167 264.4L163 269L162 273.6L159 273.6L156 276L153 280L151 277L146 279L140 277L132 272.4L126 267L123 261L118 252.4L115 245L113 238L110 238L110 243L112 249L115 256L116 260.4L113 257L110 251L107 243Z" fill="#d94801" stroke="#d94801"/>
<path d="M153 280L156 276L159 273.6L162 273.6L161.6 277L159 279L157 282L154 282Z" fill="#d94801" stroke="#d94801"/>
<path d="M162 270L163.4 269.6L163.4 273.6L162 273.6Z" fill="url(#hatch)" stroke="url(#hatch)"/>
<path d="M159 279L161.6 277L164 278.4L172 280L169 282L165 283L162 284.4L160 282.4Z" fill="#d94801" stroke="#d94801"/>
<path d="M157 282L159 279L160 282.4L162 284.4L159 285Z" fill="#f16913" stroke="#f16913"/>
<path d="M162 284.4L165 283L169 282L172 280.4L171 286L170 290L167 291L164 288Z" fill="url(#hatch)" stroke="url(#hatch)"/>
<path d="M166 291.6L170 290.4L173 294L175 297L172 297L169 294Z" fill="#fdae6b" stroke="#fdae6b"/>
<path d="M175 297L178 295.6L182 296.6L185 298.4L183 300L180 298.4L177 300Z" fill="#fd8d3c" stroke="#fd8d3c"/>
<path d="M172 261L178 259L184 261L190 264L196 267L192 267.6L186 265L180 263L174 263Z" fill="url(#hatch)" stroke="url(#hatch)"/>
<path d="M188 250L190 250.4L190 254L188.6 253Z" fill="url(#hatch)" stroke="url(#hatch)"/>
<path d="M197 269L200 268.4L200.6 272.4L198 272Z" fill="url(#hatch)" stroke="url(#hatch)"/>
<path d="M200 268.4L203 268L207 270L208 272.4L203 273L200.6 272.4Z" fill="#fd8d3c" stroke="#fd8d3c"/>
<path d="M185 272.4L189 272L189.6 273.6L186 274Z" fill="#fdae6b" stroke="#fdae6b"/>
<path d="M211 272L213.6 272L213.6 273.2L211 273.2Z" fill="url(#hatch)" stroke="url(#hatch)"/>
<path d="M185 300L189 294L195 290L199 288.4L196.4 295L198 300L205 302L208 307L207.6 313L209 317L203 316L202.4 323L201 328L198 326.4L193 322.4L189 320L184 318L181 316L184 310L186 305Z" fill="#a63603" stroke="#a63603"/>
<path d="M199 288.4L204 290L210 292L218 292.4L223 294L227 298.4L226 302L229 306L224 307L219 310.4L214.4 310L214 316L209 317L207.6 313L208 307L205 302L198 300L196.4 295Z" fill="url(#hatch)" stroke="url(#hatch)"/>
<path d="M227 298.4L231 302L232 306L230 310L231 315L229 316L226 312L224 307L229 306L226 302Z" fill="url(#hatch)" stroke="url(#hatch)"/>
<path d="M230 305.6L237 304.4L239 308L237 314L234 315L231 315L230 310L232 306Z" fill="#fdd0a2" stroke="#fdd0a2"/>
<path d="M237 304.4L239 305.6L244 309L242 314L237 314L239 308Z" fill="url(#hatch)" stroke="url(#hatch)"/>
<path d="M181 316L184 318L189 320L187 325L183 330L180 332.4L178 329.6L177 323L178 319Z" fill="#d94801" stroke="#d94801"/>
<path d="M189 320L193 322.4L198 326.4L201 328L197 333L194 337L195 342L201 348L204 349L203 355L204 362L204.4 367.6L201 365L193 359L187 352L182 342L176 333L178 329.6L180 332.4L183 330L187 325Z" fill="#d94801" stroke="#d94801"/>
<path d="M202.4 323L203 316L209 317L214 316L214.4 310L219 310.4L224 307L226 312L229 316L231 315L234 315L237 314L242 314L244 310L248 315L249 319L252 321L260 323L270 327L278 331L282 335L283 340L280 347L275 354L274 362L272 370L270 378L263 381L258 384L255 390L253 400L250 405L246.4 407L244 402L239 399L242.4 392L242 388L240 382L237 379L233 376L232.4 370L231 365L227 362L223 356L214 351L208 346L204 349L201 348L195 342L194 337L197 333L201 328Z" fill="#7f2704" stroke="#7f2704"/>
<path d="M204 349L208 346L214 351L223 356L227 362L231 365L232.4 370L227 370.4L223 372.4L222 378L218 378.4L216 377.6L212 379L209 378L207 372L204.4 367.6L204 362L203 355Z" fill="#f16913" stroke="#f16913"/>
<path d="M223 372.4L227 370.4L232.4 370L233 376L237 379L240 382L242 388L240 391L236 390L234 385L228 381L223 378L222 378Z" fill="#fd8d3c" stroke="#fd8d3c"/>
<path d="M204.4 367.6L207 372L209 378L212 379L211 382L210 390L209.6 400L210 410L211 420L212 430L215 438L216.4 447L219 453L223 456L228 458L233 461L234 463.6L228 462L220 457L213 449L209 438L207 428L205 418L204.4 406L204 394L203.6 382L204 370Z" fill="#fd8d3c" stroke="#fd8d3c"/>
<path d="M212 379L216 377.6L218 378.4L223 378L228 381L234 385L236 390L240 391L242 388L242.4 392L239 396L236 400L235.6 406L239 411L240.4 416L237 420L231 422L229 427L226 430L228 436L227 442L229 446L228 452L226 456L223 456L219 453L216.4 447L215 438L212 430L211 420L210 410L209.6 400L210 390L211 382Z" fill="url(#hatch)" stroke="url(#hatch)"/>
<path d="M227 457L230 459L234 462L233 461L228 458Z" fill="url(#hatch)" stroke="url(#hatch)"/>
<path d="M236 400L239 399L244 402L246.4 407L245 411L240 411.6L236 409L235.6 404Z" fill="#fee6ce" stroke="#fee6ce"/>
</g>
<g id="countries" stroke-linejoin="round">
<path d="M413.1 141.3L417.5 143.8L423.8 144.4L430 145.6L433.1 148.1L431.9 150.6L427.5 150L423.1 149.4L420.6 150.6L423.8 153.1L426.9 155.6L430 153.8L433.1 153.8L435 151.3L438.1 150L437.5 145.6L440 146.3L441.9 149.4L443.9 147.6L448.8 146.2L453.8 144.8L457.3 146.2L463 144.8L465.8 143.4L472.2 144.1L477.2 146.2L479.3 144.8L474.3 141.2L472.9 137.7L477.2 136.3L480.7 138.4L482.8 141.2L485.7 146.2L487.1 150.5L489.2 149.7L489.9 146.2L485.7 141.2L483.5 137.7L487.1 139.1L491.3 137L497 134.9L499.8 132L506.9 130.6L514 128L520 127L530 129L538 133L546 135L558 134L570 137L578 139L586 137L592 135L600 138L610 140L622 140.6L630 143L640 144L648 145L646 143L654 142L662 144L670 149L676 153L686 159L680 160L676 163L670 165L666 167L667 170L673 174L675.6 179L675 186L671 182L666 177L661 172L658 169L661 164L659 160L654 163L649 162L648 166L640 167.4L630 168L627 172L625 177L633 181L639 180L641.3 181.3L643.8 186.3L645.6 192.5L646.3 197.5L645 202.5L643.1 206.9L640.6 208.8L637.5 206.9L636.3 203.1L635 201.9L638.1 198.8L637.6 195.4L632 194.6L625 190.6L618 188L610 184L604 182L600 185L598 190.6L590 190L582 191L574 189L566 188L558 185L550 187L544 189L539 192L530 190L522 187L516 183L511 179.5L506.9 180.9L500.5 178.8L495.6 176.7L489.2 179.5L483.5 182.3L481.4 187.3L477.2 186.6L468.7 185.2L461.6 185.9L457.3 190.8L458 195L461.6 198.6L460.6 203.1L461.3 206.3L463.1 208.8L465 213.1L464.4 213.8L460.6 212.5L457.5 210L452.5 208.8L448.1 207.5L443 205L438.5 202.5L436 203L436.1 200.7L437.5 198.6L441 198.6L443.9 195.8L443.2 192.2L438.9 190.1L434 187.3L429.7 184.4L424.7 184.4L425.5 180.9L423.3 177.4L419.1 175.9L416.3 173.8L415 170.6L415.6 166.9L414.8 165L416.3 163.1L419.4 159.4L415.6 153.1L413.8 147.5L411.9 143.1Z" fill="#fdd0a2" stroke="#7a6456" stroke-width="0.4"/>
<path d="M446.7 137.7L449.5 132L455.9 129.2L466.5 127.8L467.2 129.2L458.7 131.3L453.8 134.9L457.3 140.5L451 139.8Z" fill="#fdd0a2" stroke="#7a6456" stroke-width="0.4"/>
<path d="M493.4 121.4L498.4 120.7L506.9 122.8L508.3 124.2L501.2 124.2L495.6 122.8Z" fill="#fdd0a2" stroke="#7a6456" stroke-width="0.4"/>
<path d="M511 124L516 124.4L518 126L513 126Z" fill="#fdd0a2" stroke="#7a6456" stroke-width="0.4"/>
<path d="M427 121L436 120.6L436 122L428 122.4Z" fill="#fdd0a2" stroke="#7a6456" stroke-width="0.4"/>
<path d="M574 130L582 129.4L588 131L582 132.6L576 132Z" fill="#fdd0a2" stroke="#7a6456" stroke-width="0.4"/>
<path d="M591 131L597 131.4L596 133L592 132.6Z" fill="#fdd0a2" stroke="#7a6456" stroke-width="0.4"/>
<path d="M641.3 180L643.1 183.8L646.9 187.5L650.6 190.6L654.4 192.5L653.1 193.8L655 197.5L656.9 199.4L655.6 200L653.1 196.9L650 193.1L646.3 189.4L643.1 185.6L640.6 181.9Z" fill="#fdd0a2" stroke="#7a6456" stroke-width="0.4"/>
<path d="M457.3 190.8L461.6 185.9L468.7 185.2L477.2 186.6L481.4 187.3L483.5 182.3L489.2 179.5L495.6 176.7L500.5 178.8L506.9 180.9L511 179.5L516 183L522 187L530 190L539 192L538 195L533 198L532 203L529 205L528 208L526 208L521 207.4L516 208L512 211L507 213L502 210L497 206L490 205L485 202L478.8 203.8L479.4 207.5L481.3 211.3L477.5 211.3L473.8 210L470 208.8L467.5 205.6L470 203.8L471.9 200L468.8 198.1L463.8 199.4L461.6 198.6L458 195Z" fill="#fee6ce" stroke="#7a6456" stroke-width="0.4"/>
<path d="M539 192L544 189L550 187L558 185L566 188L574 189L582 191L590 190L598 190.6L599 195L607 197L602 200L596 203L594 207L586 210L578 211L570 208L562 205L554 203L550 200L546 195Z" fill="#fdd0a2" stroke="#7a6456" stroke-width="0.4"/>
<path d="M539 192L546 195L550 200L554 203L562 205L570 208L578 211L586 210L594 207L596 203L602 200L607 197L599 195L598 190.6L600 185L604 182L610 184L618 188L625 190.6L632 194.6L637.6 195.4L638.1 198.8L635 201.9L636.3 203.1L637.5 206.9L636.3 208.1L633.1 210L630 211.9L626.9 214.4L623.8 215.6L620.6 213.8L615 218.1L618.8 221.9L623.1 220.6L626.9 222.5L623.1 226.9L626.9 232.5L631.3 238.8L633.8 245L633.1 251.3L631.3 255L629.4 255L626.3 258.8L621.3 261.9L616.9 263.8L613.8 265.6L611.3 264.4L609.4 266.3L608.1 264.4L606.3 264.4L603.8 261.9L600 259.4L593.8 261.9L593.1 263.1L590.6 264.4L588.1 262.5L585 259.4L583.1 255.6L583.8 251.3L581.9 246.9L580 246.9L577.5 243.8L572.5 244.4L570 246.3L568.8 247L565 246.5L560.6 248.1L555 246.3L548.8 243.1L543.8 241.3L540 239.4L535.6 235.6L536.3 232.5L533.1 228.1L531 227L526 223L522 222L520 217L520 214L526 212L529 207L527 204L531 202L531 198L536 195Z" fill="#fff5eb" stroke="#7a6456" stroke-width="0.4"/>
<path d="M610 268.1L613.1 266.9L614.4 269.4L612.5 271.9L610 271.3Z" fill="#fff5eb" stroke="#7a6456" stroke-width="0.4"/>
<path d="M633.8 255.6L635.6 254.4L636.5 257.5L635.6 261.9L634 260Z" fill="#fff5eb" stroke="#7a6456" stroke-width="0.4"/>
<path d="M630 211.9L633.1 210L636.3 208.1L637.5 209.4L636.9 212.5L635.6 216.3L633.8 220L631.3 221.3L630 218.1L630.6 215Z" fill="url(#hatch)" stroke="#d4d4d4" stroke-width="0.5"/>
<path d="M633.8 220L637.5 219.4L641.3 223.1L643.8 226.9L642.5 229.4L639.4 230L636.9 228.1L635 223.8Z" fill="#fdd0a2" stroke="#7a6456" stroke-width="0.4"/>
<path d="M655.6 202.5L658.8 204.4L662.5 204.4L665 205L666.9 206.9L663.8 208.1L661.3 209.4L658.8 211.3L656.9 209.4L656.3 206.9Z" fill="#d94801" stroke="#7a6456" stroke-width="0.4"/>
<path d="M660 212.3L662.5 213.1L664.4 215.6L665.6 218.8L666.3 221.9L667.8 225L668.1 227.5L666.3 229.4L663.1 230L661.3 232.3L658.1 232.5L657 231.5L655.5 233.8L653.8 234.4L651.9 235.6L651.9 238.1L650.6 238.8L649.4 235.6L646.9 233.8L648.8 230.6L651.3 228.1L655 227.3L657.5 226.3L658.1 223.8L661.3 221.9L661.9 218.1L660 215Z" fill="#d94801" stroke="#7a6456" stroke-width="0.4"/>
<path d="M496.3 227.5L499 221L503 223L506.9 221.9L509.4 221.9L514 221L519 218L524 219L522 220L518 224L517 230L514 235L510 238L505 243L498.8 238.8L496.9 233.8Z" fill="url(#hatch)" stroke="#d4d4d4" stroke-width="0.5"/>
<path d="M505 243L510 238L514 235L517 230L518 224L522 220L528 222L528.8 229.4L523.8 230.6L526.3 233.8L527.5 237.5L525 241.9L521.9 246.3L519.4 250L520.6 255L516.9 258.1L513.8 255.6L508 255L503.8 254.4L504.4 250L501.3 246L498.8 238.8Z" fill="url(#hatch)" stroke="#d4d4d4" stroke-width="0.5"/>
<path d="M523.8 230.6L528.8 229.4L533.1 228.1L536.3 232.5L535.6 235.6L540 239.4L543.8 241.3L541.3 244.4L546.3 246.9L552.5 249.4L559.4 251.3L560.6 248.1L561.3 250L568.1 250L570 246.3L572.5 244.4L577.5 243.8L580 246.9L577.5 249.4L575.6 252.5L573.8 257.5L571.9 264.4L570 260L568.8 255L565 252.5L560.6 251.9L562.5 257.5L563.8 262.5L561.3 265L557.5 268.8L552.5 273.8L548.8 277.5L546.3 281.3L545 286.3L544.4 290L542 298.6L540.5 297.5L538 293L536.3 290L535 288.1L531.9 281.3L529.4 273.8L528.1 267.5L526.3 264.4L523.1 265L520 262.5L516.9 258.1L520.6 255L519.4 250L521.9 246.3L525 241.9L527.5 237.5L526.3 233.8Z" fill="#7f2704" stroke="#7a6456" stroke-width="0.4"/>
<path d="M543.8 241.3L548.8 243.1L555 246.3L560 247.8L560.6 248.1L559.4 251.3L552.5 249.4L546.3 246.9L541.3 244.4Z" fill="#f16913" stroke="#7a6456" stroke-width="0.4"/>
<path d="M560.6 248.1L565 246.5L568.8 247L568.1 250L561.3 250Z" fill="url(#hatch)" stroke="#d4d4d4" stroke-width="0.5"/>
<path d="M560.6 251.9L565 252.5L568.8 255L570 260L571.9 264.4L568.8 260.6L566.9 262.5L563.8 262.5L562.5 257.5Z" fill="#a63603" stroke="#7a6456" stroke-width="0.4"/>
<path d="M547 295L550 297L551 301L549 303.4L546.4 300.6Z" fill="#fd8d3c" stroke="#7a6456" stroke-width="0.4"/>
<path d="M571.9 264.4L573.8 257.5L575.6 252.5L577.5 249.4L580 246.9L581.9 246.9L583.8 251.3L583.1 255.6L585 259.4L588.1 262.5L590.6 264.4L590 266.3L586.9 268.1L585 271.3L585.6 276.3L588.1 281.3L590 286.3L589.4 291.3L588.6 290L588 285L586 280L582.5 278.1L578.8 277.5L577.5 272.5L575 268.1Z" fill="url(#hatch)" stroke="#d4d4d4" stroke-width="0.5"/>
<path d="M585 271.3L586.9 268.1L590 266.3L591.9 269.4L593.8 272.5L597.5 272.5L601.3 273.8L604.4 277.5L606.3 281.9L606.3 283.1L602.5 283.1L598.8 283.8L597.5 286.9L593.8 285.6L591.9 287.5L590.6 291.3L591.3 296.3L593.8 300.6L596.3 303.8L598.1 306.9L595 306.3L591.9 302.5L589.4 297.5L589.4 291.3L590 286.3L588.1 281.3L585.6 276.3Z" fill="#fff5eb" stroke="#7a6456" stroke-width="0.4"/>
<path d="M590 266.3L590.6 264.4L593.1 263.1L593.8 261.9L596.3 264.4L598.8 266.9L600 270.6L603.8 273.8L606.9 278.1L608.8 282.5L606.3 283.1L606.3 281.9L604.4 277.5L601.3 273.8L597.5 272.5L593.8 272.5L591.9 269.4Z" fill="url(#hatch)" stroke="#d4d4d4" stroke-width="0.5"/>
<path d="M593.8 261.9L600 259.4L603.8 261.9L606.3 264.4L603.1 266.9L601.3 270L605 273.8L609.4 278.1L612.5 283.1L613.8 287.5L611.3 291.9L607.5 295L604.4 297.5L603.1 293.1L606.9 290.6L609.4 287.5L608.8 282.5L606.9 278.1L603.8 273.8L600 270.6L598.8 266.9L596.3 264.4Z" fill="#d94801" stroke="#7a6456" stroke-width="0.4"/>
<path d="M597.5 286.9L598.8 283.8L602.5 283.1L606.3 283.1L608.8 282.5L609.4 287.5L606.9 290.6L603.1 291.3L599.4 290Z" fill="url(#hatch)" stroke="#d4d4d4" stroke-width="0.5"/>
<path d="M594.2 305L595 306.3L598.1 306.9L601.2 309.2L603.4 314.8L601.2 317L597.7 314.1L594.9 308.5Z" fill="#fff5eb" stroke="#7a6456" stroke-width="0.4"/>
<path d="M420 216.9L422.5 213.8L428.8 211.3L435 210.6L442.5 212.5L448.8 213.1L452.5 211.9L457.5 213.1L457.5 215.6L459.4 218.1L458.1 218.1L458.8 221.9L458.1 221.9L452.5 223.8L446.3 224.4L441.9 225.6L438.1 224.4L431.3 225.6L425.6 224.4L421.3 221.9L419.4 218.8Z" fill="#f16913" stroke="#7a6456" stroke-width="0.4"/>
<path d="M448.1 207.5L452.5 208.8L457.5 210L460.6 212.5L458.8 212.5L457.5 213.1L452.5 211.9L449.4 210.6Z" fill="#fd8d3c" stroke="#7a6456" stroke-width="0.4"/>
<path d="M457.5 213.1L458.8 212.5L460.6 215L461.9 217.5L459.4 218.1L457.5 215.6Z" fill="#fdae6b" stroke="#7a6456" stroke-width="0.4"/>
<path d="M460.6 212.5L464.4 213.8L467.5 216.3L468.8 219.4L466.3 220L464.4 217.5L461.9 217.5L460.6 215L458.8 212.5Z" fill="url(#hatch)" stroke="#d4d4d4" stroke-width="0.5"/>
<path d="M441.9 225.6L446.3 224.4L452.5 223.8L451.9 228.8L448.1 232.5L447 232L443 235L442.3 232L441.5 228.1Z" fill="#d94801" stroke="#7a6456" stroke-width="0.4"/>
<path d="M440 229.6L441.6 230L441.6 232L440.4 232.4Z" fill="#fdae6b" stroke="#7a6456" stroke-width="0.4"/>
<path d="M440.4 232.4L441.6 232L442 235L441.4 239L440 238L439.6 235Z" fill="#fdae6b" stroke="#7a6456" stroke-width="0.4"/>
<path d="M452.5 223.8L458.1 221.9L458.8 221.9L461.9 226.3L463.1 230L465 233.8L468.8 238.1L470.6 241.9L469 242L465 244L460 242L454 238L449 234L448.1 232.5L451.9 228.8Z" fill="#fd8d3c" stroke="#7a6456" stroke-width="0.4"/>
<path d="M458.1 218.1L459.4 218.1L461.9 217.5L464.4 217.5L466.3 220L470 222.5L475 224.4L481.3 221.9L486.3 221.3L492.5 223.8L496.3 227.5L496.9 233.8L498.8 238.8L501.3 243.8L504.4 249.4L501.3 254.4L495 252.5L490 250.6L486.3 251.3L482.5 250L477.5 247.5L473.8 244.4L470.6 241.9L468.8 238.1L465 233.8L463.1 230L461.9 226.3L458.8 221.9Z" fill="#d94801" stroke="#7a6456" stroke-width="0.4"/>
<path d="M440 246.5L441.4 243L441.4 239L442 235L443 235L447 232L449 234L454 238L460 242L465 244L469 242L472 245L475 249L478 254L481 258L481.5 255L483 257L485 260L488 260L490 255L491.5 257L495 259.5L497.5 261.5L495.5 265L492 269L489 272L483 276L477 279L471 281.5L465 284L463 285L461 281L458.5 276L455 270L451.5 264L447.5 258L443.5 252Z" fill="url(#hatch)" stroke="#d4d4d4" stroke-width="0.5"/>
<path d="M459.5 275L463 274L469 274L475 272L481 270L483 276L477 279L471 281.5L465 284L463 285L461 281Z" fill="url(#hatch)" stroke="#d4d4d4" stroke-width="0.5"/>
<path d="M481 270L487 265L489 260L490 255L491.5 257L495 259.5L497.5 261.5L495.5 265L492 269L489 272L483 276Z" fill="url(#hatch)" stroke="#d4d4d4" stroke-width="0.5"/>
<path d="M481 258L485 260L488 260L490 255L489 260L487 263L483 262Z" fill="url(#hatch)" stroke="#d4d4d4" stroke-width="0.5"/>
<path d="M467 243L469 242L470.5 244L468.6 245.4Z" fill="url(#hatch)" stroke="#d4d4d4" stroke-width="0.5"/>
<path d="M442 235L443 235L447 232L449 234L449 236L446 240L442 241.6L441.4 239Z" fill="url(#hatch)" stroke="#d4d4d4" stroke-width="0.5"/>
<path d="M473.8 210L477.5 211.3L481.3 211.3L485 211.3L486.9 210L490 212.5L495 215L498.8 216.9L502.5 219.4L506.9 221.9L503 223L499 221L496.3 227.5L492.5 223.8L486.3 221.3L481.3 221.9L480.6 221.9L478.8 220L478.1 215Z" fill="url(#hatch)" stroke="#d4d4d4" stroke-width="0.5"/>
<path d="M478.8 203.8L483.1 201.3L487.5 203.1L490 206.3L495 206.9L500 206.9L502.5 210L506.3 212.5L508.8 215L512 211L516 212L511 215L513 218L509.4 221.9L506.9 221.9L502.5 219.4L498.8 216.9L495 215L490 212.5L486.9 210L485 211.3L481.3 211.3L479.4 207.5Z" fill="#d94801" stroke="#7a6456" stroke-width="0.4"/>
<path d="M507.5 217.5L510 215L513.1 213.8L516.9 213.1L516.3 215.6L520 216.3L523.1 218.8L523.8 221.9L520 223.1L516.3 220.6L513.8 222.5L510 223.1L508.8 220Z" fill="#f16913" stroke="#7a6456" stroke-width="0.4"/>
<path d="M508.8 212.5L511.9 209.4L517.5 208.1L525 207.8L531.3 208.5L528.8 211.9L524.4 214.4L520 216.3L516.3 215.6L516.9 213.1L513.1 213.8L510 215Z" fill="#fdae6b" stroke="#7a6456" stroke-width="0.4"/>
<path d="M582.1 306.3L586.4 305.6L592 310.6L598.4 316.2L602.7 321.2L606.2 325.5L607.6 330.4L606.2 335.4L602.7 333.2L599.1 328.3L594.9 321.9L590.6 316.2L586.4 310.6Z" fill="#a63603" stroke="#7a6456" stroke-width="0.4"/>
<path d="M606.2 336.1L611.2 336.1L616.8 337.5L622.5 338.9L628.2 341L626.7 342.5L621.1 341L614.7 339.6L608.3 338.6Z" fill="#a63603" stroke="#7a6456" stroke-width="0.4"/>
<path d="M631.7 342.5L636.7 341.5L637.4 342.9L632.4 343.9Z" fill="#a63603" stroke="#7a6456" stroke-width="0.4"/>
<path d="M638.8 342.5L645.2 341.5L645.9 342.5L639.5 343.6Z" fill="#a63603" stroke="#7a6456" stroke-width="0.4"/>
<path d="M636.7 344.9L640.2 344.6L640.2 346L637.4 346.3Z" fill="#a63603" stroke="#7a6456" stroke-width="0.4"/>
<path d="M646.6 346L650.8 343.2L652 345L648 347.4Z" fill="#a63603" stroke="#7a6456" stroke-width="0.4"/>
<path d="M650.8 343.2L655 341.7L655.8 342.9L652 345Z" fill="url(#hatch)" stroke="#d4d4d4" stroke-width="0.5"/>
<path d="M616.1 317L618.9 314.1L623.9 311.3L628.2 307L632.4 302.1L635.9 303.5L637.4 307L633.8 309.2L630.3 309.9L627.5 313.4L622.5 316.2L618.2 318.4Z" fill="#fff5eb" stroke="#7a6456" stroke-width="0.4"/>
<path d="M614.7 316.2L616.1 317L618.2 318.4L622.5 316.2L627.5 313.4L630.3 309.9L633.8 309.2L634.5 313.4L636.7 317L634.5 319.1L633.1 323.3L631 329.7L626.7 329L621.1 328.3L617.5 326.2L615.1 321.9Z" fill="#a63603" stroke="#7a6456" stroke-width="0.4"/>
<path d="M638.1 321.2L640.2 318.4L644.4 317L650.1 316.2L652.2 317L648.7 319.1L643.7 319.8L641.6 322.6L646.6 322.6L644.4 324.7L643.7 328.3L646.6 332.5L644.4 333.9L642.3 329.7L640.9 327.6L640.9 333.9L638.8 334.7L638.1 329L637.4 325.5Z" fill="#a63603" stroke="#7a6456" stroke-width="0.4"/>
<path d="M657.2 315.5L659 314.8L660 319.1L658.6 322.6L657.6 319.8Z" fill="#a63603" stroke="#7a6456" stroke-width="0.4"/>
<path d="M658.6 327.9L663.6 328.3L664.3 329.7L659.3 329.3Z" fill="#a63603" stroke="#7a6456" stroke-width="0.4"/>
<path d="M653.7 328.3L656.5 328.7L656.2 329.7L653.7 329.4Z" fill="#a63603" stroke="#7a6456" stroke-width="0.4"/>
<path d="M672 334.7L673.5 334.4L672.8 337.5Z" fill="#a63603" stroke="#7a6456" stroke-width="0.4"/>
<path d="M665 321.9L670.7 321.2L672.1 324L668.5 325.5L672.1 326.9L676.3 326.9L680.6 324.7L688.4 327.6L687.6 343.2L683.4 341L679.9 341.7L681.3 337.5L677.7 334L674.2 330.4L670.7 328.3L667.1 325.5Z" fill="#a63603" stroke="#7a6456" stroke-width="0.4"/>
<path d="M688.4 327.6L694 330L700 333.6L703 337L701 340L704 343L708 347L704 346L699 343.6L694 344.4L690 344L687.6 343.2Z" fill="url(#hatch)" stroke="#d4d4d4" stroke-width="0.5"/>
<path d="M704 334.4L709.4 333.5L713.8 328.2L715.6 330.9L712 335.3L706.8 337Z" fill="url(#hatch)" stroke="#d4d4d4" stroke-width="0.5"/>
<path d="M636.9 272.5L641.3 271.9L641.9 276.3L640.6 280.6L643.8 283.1L646.9 283.1L649.4 287.5L651.3 290.6L649.4 291.3L646.9 288.8L644.4 288.1L642.5 285L640 285L638.1 281.9L636.5 277.5Z" fill="#a63603" stroke="#7a6456" stroke-width="0.4"/>
<path d="M642.5 290L646.3 290.6L648.8 293.8L647.5 296.3L645 295L643.1 293.1Z" fill="#a63603" stroke="#7a6456" stroke-width="0.4"/>
<path d="M643.7 299.2L646.6 297.1L650.8 295L653.7 297.8L653.7 303.5L650.8 304.9L648 301.4L644.4 301.4Z" fill="#a63603" stroke="#7a6456" stroke-width="0.4"/>
<path d="M632.5 297.5L637.5 290.6L638.1 291.9L633.8 298.1Z" fill="#a63603" stroke="#7a6456" stroke-width="0.4"/>
<path d="M618 384L619.7 380L625.3 374.3L633.8 371.5L640.9 365.8L643.7 363L649.4 358.7L653.7 356.6L659.3 357.3L661.4 353.1L666.4 349.5L670.7 351.7L676.3 351.7L673.5 358.7L677.7 363L681.3 365.8L684.8 363L686.9 355.9L689.8 348.1L691.9 354.5L694 357.3L695.4 364.4L698 368L701 374L704 380L706 387L705 395L702 402L696 409L690 415L685 419L678 421L673 421L668 419L664 413L665 407L661 412L658 407L653 403.6L646 403L638 406L630 408L622 410L616 411.6L614 409L618 403L617.6 396L617 389Z" fill="#f16913" stroke="#7a6456" stroke-width="0.4"/>
<path d="M669 427L677 427L675.6 431L670 434L667.6 433Z" fill="#f16913" stroke="#7a6456" stroke-width="0.4"/>
<path d="M739 411L741 410L742.4 416L747 419L743 422L738 424L733 428L732 426L736 421L739 418Z" fill="url(#hatch)" stroke="#d4d4d4" stroke-width="0.5"/>
<path d="M730 427L732 429L726 433L718 437L712 440L706 441.6L705.6 439L712 435.6L720 431L726 428Z" fill="url(#hatch)" stroke="#d4d4d4" stroke-width="0.5"/>
<path d="M734 372.4L735.9 372L740.3 377.6L738.5 378.5Z" fill="url(#hatch)" stroke="#d4d4d4" stroke-width="0.5"/>
<path d="M743 358L744.7 359L745.6 363.5L743.8 362.6Z" fill="#fdae6b" stroke="#7a6456" stroke-width="0.4"/>
<path d="M766.2 366.2L769.4 365.3L769 368L766.8 368.5Z" fill="#fdae6b" stroke="#7a6456" stroke-width="0.4"/>
<path d="M770.3 363.2L773.8 362.1L773.3 363.5Z" fill="#fdae6b" stroke="#7a6456" stroke-width="0.4"/>
<path d="M719 334L723 336L722 337L718.6 335Z" fill="url(#hatch)" stroke="#d4d4d4" stroke-width="0.5"/>
<path d="M725 338L730 341L729 342L724.6 339.4Z" fill="url(#hatch)" stroke="#d4d4d4" stroke-width="0.5"/>
<path d="M731 343L736 347L735 348L730.6 344.4Z" fill="url(#hatch)" stroke="#d4d4d4" stroke-width="0.5"/>
<path d="M379 123L390 121.6L401 122.4L398 126L388 128L382 126Z" fill="#fdd0a2" stroke="#7a6456" stroke-width="0.4"/>
<path d="M372.5 161.3L374.4 158.1L378.8 154.4L383.8 150L389.4 145.6L395 142.5L402.5 140.6L408.1 140L413.1 141.3L411.9 143.1L407.5 142.5L405 145.6L402.5 144.4L398.1 145L393.1 148.1L388.8 152.5L385.6 156.9L384.4 162.5L384.4 168.1L383.8 167.5L381.3 169.4L376.9 170L373.8 167.5L372.5 164.4Z" fill="#fdd0a2" stroke="#7a6456" stroke-width="0.4"/>
<path d="M398.1 145L402.5 144.4L402.5 146.9L403.1 151.3L400 153.1L396.3 156.9L394.4 161.3L396.9 165.6L394.4 170L392.5 174.4L389.4 176.3L386.9 173.8L384.4 168.1L384.4 162.5L385.6 156.9L388.8 152.5L393.1 148.1Z" fill="#fd8d3c" stroke="#7a6456" stroke-width="0.4"/>
<path d="M405 145.6L407.5 142.5L411.9 143.1L413.8 147.5L415.6 153.1L419.4 159.4L416.3 163.1L411.9 165L406.9 165.6L402.5 163.8L401.3 159.4L403.8 155L406.3 152.5L405.6 148.8Z" fill="#fdd0a2" stroke="#7a6456" stroke-width="0.4"/>
<path d="M351.9 170.6L355 168.8L358.1 170L357.5 173.1L360 175L361.9 178.8L363.8 181.9L365.6 183.8L365 186.9L360 188.1L355 189.4L352.5 189.4L355.6 186.9L353.8 185L356.3 182.5L355 180L355.6 177.5L353.8 175.6L352.5 173.1Z" fill="#f16913" stroke="#7a6456" stroke-width="0.4"/>
<path d="M348.5 177.5L351.3 177.3L351.5 179.4L349.4 179.8Z" fill="#f16913" stroke="#7a6456" stroke-width="0.4"/>
<path d="M343.8 183.8L345.6 180L348.5 178.1L349.4 179.8L351.5 180L351 183.1L348.1 185L345 185.6Z" fill="#fdd0a2" stroke="#7a6456" stroke-width="0.4"/>
<path d="M353.8 193.8L358.1 191.9L361.9 191.3L365 188.1L368.1 187.5L371.3 189.4L375 191.3L378.1 192.5L376.9 196.3L375.6 199.4L377.5 201.9L378.8 205L375 206.9L371.3 206.3L368.8 207.5L365.6 209.4L361.9 208.1L360 206.5L360.6 201.3L359.4 197.5L356.3 195.6Z" fill="#fd8d3c" stroke="#7a6456" stroke-width="0.4"/>
<path d="M381 208.8L382.8 208.4L382.8 211.9L381.3 211.9Z" fill="#fd8d3c" stroke="#7a6456" stroke-width="0.4"/>
<path d="M343.8 208.1L347.5 206.3L353.8 206.9L360 206.5L361.9 208.1L365.6 209.4L368.8 210L366.3 212.5L363.1 215L361.9 219.4L360 221.3L355.6 223.8L351.3 225.6L348.8 223.1L347.5 222.5L348.1 217.5L348.5 211.9L345 210.6Z" fill="#f16913" stroke="#7a6456" stroke-width="0.4"/>
<path d="M344.4 211.3L345 210.6L348.5 211.9L348.1 217.5L347.5 222.5L344.4 223.1L343.1 220L343.8 215.6Z" fill="#fdae6b" stroke="#7a6456" stroke-width="0.4"/>
<path d="M368.1 187.5L371.3 186.3L374.4 188.1L375 191.3L371.3 189.4Z" fill="#fdd0a2" stroke="#7a6456" stroke-width="0.4"/>
<path d="M371.3 186.3L372.5 182.5L376.3 181.9L375.6 185L374.4 188.1Z" fill="#fdd0a2" stroke="#7a6456" stroke-width="0.4"/>
<path d="M376.3 181.9L378.8 179.4L383.1 179.4L387.5 178.8L390.6 180.6L391.3 180.6L391.3 186.9L391.9 187.8L388.1 189.4L390 192.5L388.1 195L383.8 195.6L380 195.6L378.1 196.3L378.1 192.5L375 191.3L374.4 188.1L375.6 185Z" fill="#f16913" stroke="#7a6456" stroke-width="0.4"/>
<path d="M378.8 173.1L381.9 171.3L383.1 174.4L382.5 178.1L379.4 178.8L378.5 175.6Z" fill="#fdae6b" stroke="#7a6456" stroke-width="0.4"/>
<path d="M384.4 175.6L386.9 175.6L386.5 177.5L384.8 177.5Z" fill="#fdae6b" stroke="#7a6456" stroke-width="0.4"/>
<path d="M375.6 199.4L376.9 196.3L378.1 196.3L380 195.6L383.1 196.9L383.1 198.5L380.6 199.8L377.5 201.9Z" fill="#fee6ce" stroke="#7a6456" stroke-width="0.4"/>
<path d="M383.1 196.9L383.8 195.6L388.1 195L390 192.5L394.4 193.8L396.9 194.8L396.9 195.3L396.3 198.1L395.6 197.8L391.9 199L387.5 198.8L383.1 198.5Z" fill="#fd8d3c" stroke="#7a6456" stroke-width="0.4"/>
<path d="M388.1 189.4L391.9 187.8L396.9 188.8L398.8 190.6L400 191.3L398.1 193.1L394.4 193.8L390 192.5Z" fill="#fee6ce" stroke="#7a6456" stroke-width="0.4"/>
<path d="M391.3 180.6L396.3 178.8L402.5 178.8L405 178.8L408.1 180L409.4 181.3L409.4 184.4L410.6 188.1L408.1 190.6L408.1 191.3L402.5 191.3L398.8 190.6L396.9 188.8L391.9 187.8L391.3 186.9Z" fill="#fd8d3c" stroke="#7a6456" stroke-width="0.4"/>
<path d="M398.1 193.1L400 191.3L402.5 191.3L408.1 191.3L408.1 193.8L406.9 193.8L403.1 194L399.4 194.8L396.9 194.8Z" fill="#fd8d3c" stroke="#7a6456" stroke-width="0.4"/>
<path d="M396.9 195.3L396.9 194.8L399.4 194.8L403.1 194L406.9 193.8L408.1 193.8L408.8 195L410 196.3L406.3 198.1L403.1 200L402.5 200L398.8 200L396.9 199L396.3 198.1Z" fill="url(#hatch)" stroke="#d4d4d4" stroke-width="0.5"/>
<path d="M377.5 201.9L380.6 199.8L383.1 198.5L387.5 198.8L391.9 199L392.3 200.6L391.3 201.3L388.8 203.1L390.6 205.6L393.8 208.8L397.5 211.9L401.3 214.4L401.9 215.6L399.4 216.3L400 218.8L398.1 221.3L396.9 219.4L397.5 216.9L395 215L391.3 212.5L388.1 210L385.6 206.9L383.8 204.4L380 204.4L378.8 205Z" fill="#d94801" stroke="#7a6456" stroke-width="0.4"/>
<path d="M390 221.3L393.8 220.6L396.9 220L395.6 223.8L393.1 223.1L390.6 222.5Z" fill="#d94801" stroke="#7a6456" stroke-width="0.4"/>
<path d="M381 213.1L383.1 212.5L383.5 216.9L381.9 218.1L381 216.3Z" fill="#d94801" stroke="#7a6456" stroke-width="0.4"/>
<path d="M391.9 199L395.6 197.8L396.3 198.1L396.9 199L395 200.6L392.3 200.6Z" fill="#fee6ce" stroke="#7a6456" stroke-width="0.4"/>
<path d="M395 200.6L396.9 199L398.8 200L402.5 200L403.1 200L403.1 201.9L400 201.9L397.5 202.5L398.8 205L401.9 207.5L400 207.5L396.9 204.4L395 202.5Z" fill="#fee6ce" stroke="#7a6456" stroke-width="0.4"/>
<path d="M397.5 202.5L400 201.9L403.1 201.9L403.5 205L401.9 207.5L398.8 205Z" fill="url(#hatch)" stroke="#d4d4d4" stroke-width="0.5"/>
<path d="M403.1 200L406.3 198.1L408.8 201.3L410 204.4L411.3 207.5L410 209.4L409.4 209.8L407.8 209.4L406.9 207.3L405 207.5L403.5 205.6L403.5 205L403.1 201.9Z" fill="#fd8d3c" stroke="#7a6456" stroke-width="0.4"/>
<path d="M401.9 207.5L403.5 205.6L405 207.5L405 207.8L404.4 209.4L403.5 209.8Z" fill="#fdae6b" stroke="#7a6456" stroke-width="0.4"/>
<path d="M405 207.8L406.9 207.3L407.8 209.4L406.3 210.3L405.6 210Z" fill="#f16913" stroke="#7a6456" stroke-width="0.4"/>
<path d="M403.5 209.8L404.4 209.4L405.6 210L406.3 210.3L406.9 213.1L406.9 213.8L406 216.3L404 214.4L403.5 211.9Z" fill="#fee6ce" stroke="#7a6456" stroke-width="0.4"/>
<path d="M406.3 210.3L407.8 209.4L409.4 209.8L411.3 211.5L409.4 213.1L406.9 213.1Z" fill="#f16913" stroke="#7a6456" stroke-width="0.4"/>
<path d="M406.9 213.8L406.9 213.1L409.4 213.1L411.3 211.5L415 211L418.1 210L420 210.6L420 212.5L417.5 212.5L413.8 213.1L411.3 215L413.1 218.1L415 221.3L413.8 225L411.3 223.1L409.4 220L407.5 216.9L406 216.3Z" fill="#fdae6b" stroke="#7a6456" stroke-width="0.4"/>
<path d="M413.8 227.5L420 228.1L419.4 229.2L414.4 228.7Z" fill="#fdae6b" stroke="#7a6456" stroke-width="0.4"/>
<path d="M411.3 207.5L415 206.3L420 205.6L422.5 207.5L421.3 210L420 210.6L418.1 210L415 211L411.3 211.5L409.4 209.8L410 209.4Z" fill="#fd8d3c" stroke="#7a6456" stroke-width="0.4"/>
<path d="M406.3 198.1L410 196.3L415 195.6L418.8 195.6L421.3 198.8L422.5 200L424.4 200.6L424.4 201.3L423.1 204.4L420 205.6L415 206.3L411.3 207.5L410 204.4L408.8 201.3Z" fill="#fd8d3c" stroke="#7a6456" stroke-width="0.4"/>
<path d="M418.8 195.6L421.3 195L423.8 198.1L424.4 200.6L422.5 200L421.3 198.8Z" fill="#fee6ce" stroke="#7a6456" stroke-width="0.4"/>
<path d="M410.6 188.1L409.4 184.4L410 184.4L412.5 185L418.8 185.6L423.8 185L428.8 184.4L433.1 186.9L438.8 189.4L443.1 192.5L442.5 195.6L438.8 197.5L435.6 198.1L433.8 198.8L435 201.3L438 201.6L436 203.6L432.5 203.1L428.8 201.3L430.6 198.8L426.3 198.8L424.4 200.6L423.8 198.1L421.3 195L418.8 195.6L415 195.6L410 196.3L408.8 195L408.1 193.8L408.1 190.6Z" fill="#fdd0a2" stroke="#7a6456" stroke-width="0.4"/>
<path d="M409.4 181.3L409.4 180.6L413.1 178.1L413.8 175.8L416.3 175.6L421.3 175.6L424.4 178.8L426.3 181.9L423.8 185L418.8 185.6L412.5 185L410 184.4Z" fill="#fff5eb" stroke="#7a6456" stroke-width="0.4"/>
<path d="M404.4 175L408.8 174.6L413.8 175.8L413.1 178.1L412.5 178.8L409.4 180.6L408.1 180L405 178.8Z" fill="#fd8d3c" stroke="#7a6456" stroke-width="0.4"/>
<path d="M403.8 173.1L406.9 171.3L410.6 170.8L415 170.6L416.3 173.8L413.8 175.8L408.8 174.6L404.4 175Z" fill="#fdd0a2" stroke="#7a6456" stroke-width="0.4"/>
<path d="M406.3 166.9L411.3 166.3L415.6 166.9L415 170.6L410.6 170.8L406.9 169.4Z" fill="#fee6ce" stroke="#7a6456" stroke-width="0.4"/>
<path d="M402.5 178.8L405 178.8L408.1 180L403 180.4Z" fill="#fdd0a2" stroke="#7a6456" stroke-width="0.4"/>
<path d="M420 210.6L423.1 210L424.4 212.3L421.9 213.8L420 212.5Z" fill="#f16913" stroke="#7a6456" stroke-width="0.4"/>
<path d="M433.8 227.8L437.5 226.9L436.9 228.8L434.4 229.4Z" fill="#fee6ce" stroke="#7a6456" stroke-width="0.4"/>
<path d="M353 226L359 224L358 230L359 235L352 237L346 240L343 244L343 249L335 251L334 257L334 263L325 264L326 260L330 254L334 248L338 242L342 236L347 230Z" fill="url(#hatch)" stroke="#d4d4d4" stroke-width="0.5"/>
<path d="M359 224L370 223L380 223.6L381 230L384 238L385 240L385 245L386 253L390 258L383 262L376 268L372 269L361 262L349 255L343 249L343 244L346 240L352 237L359 235L358 230Z" fill="url(#hatch)" stroke="#d4d4d4" stroke-width="0.5"/>
<path d="M380 223.6L385 223L386 228L385 231L387 234L385 240L384 238L381 230Z" fill="#fdae6b" stroke="#7a6456" stroke-width="0.4"/>
<path d="M387 234L394 235L402 239L408 235L418 237L419 260L419 267L415 266L398 259L390 258L386 253L385 245L385 240Z" fill="url(#hatch)" stroke="#d4d4d4" stroke-width="0.5"/>
<path d="M418.1 238.4L426 238.6L434 239L438.8 238.1L440.6 243.1L439.4 247.5L437.5 244.4L435 242.5L438.1 250L441.9 257.5L445 262.5L419 262.5L419 260Z" fill="#f16913" stroke="#7a6456" stroke-width="0.4"/>
<path d="M419 262.4L445.5 262.4L449 269L450 273.8L447.5 276.3L447 280L446.3 283.8L445 286.3L443.1 290L441.9 295L439.4 299.4L434 296L427 296L421 298L416 292L414 287L417 278L418 272L419 267Z" fill="url(#hatch)" stroke="#d4d4d4" stroke-width="0.5"/>
<path d="M421 298L427 296L434 296L439.4 299.4L443.1 303.8L445 306.9L441.9 310L438.8 310L433.8 311.3L429 309L425 304Z" fill="url(#hatch)" stroke="#d4d4d4" stroke-width="0.5"/>
<path d="M447.5 276.3L450 273.8L453.1 277.5L456.9 282.5L460 286.9L459.4 288.1L459.4 287.5L455.6 283.1L451.3 281.9L446.3 283.8L447 280Z" fill="url(#hatch)" stroke="#d4d4d4" stroke-width="0.5"/>
<path d="M459.4 288.1L461.3 287.5L461.9 290L460 290.6L459.4 287.5Z" fill="url(#hatch)" stroke="#d4d4d4" stroke-width="0.5"/>
<path d="M446.3 283.8L451.3 281.9L455.6 283.1L459.4 287.5L460 290.6L462.5 293.8L467.5 296.9L472.5 299.4L468.8 303.1L465 306.9L458.8 308.8L453.8 310.6L449.4 308.8L445 306.9L443.1 303.8L439.4 299.4L441.9 295L443.1 290L445 286.3Z" fill="#7f2704" stroke="#7a6456" stroke-width="0.4"/>
<path d="M460 290.6L465 291.3L472.5 290L478.1 288.8L480.6 290L479.4 295L476.3 302.5L472.5 308.8L467.5 315L462.5 320L458.8 323.8L458.1 324.4L457.5 320L458.1 313.1L458.8 308.8L465 306.9L468.8 303.1L472.5 299.4L467.5 296.9L462.5 293.8Z" fill="url(#hatch)" stroke="#d4d4d4" stroke-width="0.5"/>
<path d="M445 306.9L449.4 308.8L453.8 310.6L458.8 308.8L458.1 313.1L457.5 320L458.1 324.4L455.6 328.1L453.8 331.9L450 328.8L445 324.4L441.3 321.9L441.9 318.1L443.1 313.8L441.9 310Z" fill="#7f2704" stroke="#7a6456" stroke-width="0.4"/>
<path d="M433.8 311.3L438.8 310L441.9 310L443.1 313.8L441.9 318.1L441.3 321.9L436.9 322.3L432.5 322.5L431.9 318.1L433.1 314.4Z" fill="#7f2704" stroke="#7a6456" stroke-width="0.4"/>
<path d="M432.5 322.5L436.9 322.3L441.3 321.9L445 324.4L450 328.8L453.8 331.9L454 339L456 348L450 350L442 351L439 345L433 341L431 336L431.3 332.5L431.5 331.3L433.5 329.4L433.5 326.3L433.1 323.5Z" fill="url(#hatch)" stroke="#d4d4d4" stroke-width="0.5"/>
<path d="M430.6 323.8L432.5 322.5L433.1 323.5L433.5 326.3L431.3 326.9Z" fill="#d94801" stroke="#7a6456" stroke-width="0.4"/>
<path d="M430.6 327.3L431.3 326.9L433.5 326.3L433.5 329.4L431.5 331.3Z" fill="#a63603" stroke="#7a6456" stroke-width="0.4"/>
<path d="M335 251L343 249L349 255L350 279L337 280L334 277L328 279L325 276L326 270L325 264L334 263L334 257Z" fill="#f16913" stroke="#7a6456" stroke-width="0.4"/>
<path d="M349 255L361 262L372 269L373 278L369 280L363 281L359 282L355 287L352 290L349 292L347 289L345 283L337 280L350 279Z" fill="#a63603" stroke="#7a6456" stroke-width="0.4"/>
<path d="M323.1 281.3L325.6 278.1L328 279L330 276.9L334 277L337 280L337 286L330.6 287.5L325 287.5L323.8 285Z" fill="#d94801" stroke="#7a6456" stroke-width="0.4"/>
<path d="M325 287.5L329.4 287.8L330 289.4L327.5 290.6L325.6 289.4Z" fill="#f16913" stroke="#7a6456" stroke-width="0.4"/>
<path d="M329.4 287.8L330.6 287.5L337 286L337 280L345 283L347 289L349 292L351 294L350.6 293.1L347 294L344.4 293.8L343.1 290L338.8 288.1L333.8 288.8L330 289.4Z" fill="#a63603" stroke="#7a6456" stroke-width="0.4"/>
<path d="M330 289.4L333.8 288.8L338.8 288.1L340 292L337.5 296.5L332.5 295.6Z" fill="url(#hatch)" stroke="#d4d4d4" stroke-width="0.5"/>
<path d="M338.8 288.1L343.1 290L344.4 293.8L345 302.5L345.6 308.1L342.5 306.9L337.5 301.3L337.5 296.5L340 292Z" fill="url(#hatch)" stroke="#d4d4d4" stroke-width="0.5"/>
<path d="M344.4 293.8L347 294L350.6 293.1L355.6 294.4L356.9 298.8L356.3 306.3L350.6 306.9L345.6 308.1L345 302.5Z" fill="#a63603" stroke="#7a6456" stroke-width="0.4"/>
<path d="M351.3 286.3L354.4 283.8L359 282L363 281L365.6 285L368.8 288.1L370 288L366.3 290L363.1 291.9L356.3 291.9L355.6 294.4L350.6 293.1L351 294L349 292L350.6 288.8Z" fill="#7f2704" stroke="#7a6456" stroke-width="0.4"/>
<path d="M356.3 291.9L363.1 291.9L363.8 297.5L365 303.8L361.3 305.6L356.3 306.3L356.9 298.8L355.6 294.4Z" fill="url(#hatch)" stroke="#d4d4d4" stroke-width="0.5"/>
<path d="M363.1 291.9L366.3 290L367.3 291.9L366.9 297.5L367.3 303.8L365 303.8L363.8 297.5Z" fill="#a63603" stroke="#7a6456" stroke-width="0.4"/>
<path d="M366.3 290L370 288L371 289.4L370.6 294.4L369.8 298.8L369.4 303.5L367.3 303.8L366.9 297.5L367.3 291.9Z" fill="#a63603" stroke="#7a6456" stroke-width="0.4"/>
<path d="M372 269L376 268L383 262L390 258L398 259L397 270L396 278L395 284L391 286L384 285L378 286L374 284L371 287L370 288L366 285L363 281L369 280L373 278Z" fill="#7f2704" stroke="#7a6456" stroke-width="0.4"/>
<path d="M370 288L371 287L372.5 285L374 284L378.8 285.4L385 286L391 286L395 284L395.6 288.1L394.4 293.1L391.3 298.8L388.1 302.5L383.8 304.4L381.9 308.1L377.5 308.8L373.8 305L369.4 303.5L369.8 298.8L370.6 294.4L371 289.4Z" fill="#7f2704" stroke="#7a6456" stroke-width="0.4"/>
<path d="M398 259L415 266L419 267L418 272L417 278L414 287L416 292L412 294L407 298L401 300L398.1 301.3L395 295.6L396.9 293.8L395.6 288.1L395 284L396 278L397 270Z" fill="#a63603" stroke="#7a6456" stroke-width="0.4"/>
<path d="M395.6 288.1L396.9 293.8L395 295.6L398.1 301.3L399.4 308.8L400 314.4L393.8 314.4L388.8 314.4L388.8 313.1L384.4 311.9L383.1 307.5L383.8 304.4L388.1 302.5L391.3 298.8L394.4 293.1Z" fill="#a63603" stroke="#7a6456" stroke-width="0.4"/>
<path d="M398.1 301.3L401 300L407 298L412 294L416 292L421 298L425 304L429 309L424 308L418 307L412 308L406.3 308.8L402.5 312.5L400 314.4L399.4 308.8Z" fill="#a63603" stroke="#7a6456" stroke-width="0.4"/>
<path d="M385 314.4L388.5 314.4L388.5 317.3L385 317.3Z" fill="#fd8d3c" stroke="#7a6456" stroke-width="0.4"/>
<path d="M385 317.3L388.5 317.3L388.8 314.4L393.8 314.4L398 314.4L398.5 318L400 320L398.5 325L399 329L395 332.5L391.9 333.1L389.4 328.8L386.3 323.8L383.8 320Z" fill="url(#hatch)" stroke="#d4d4d4" stroke-width="0.5"/>
<path d="M398 314.4L400 314.4L402.5 312.5L406.3 308.8L407.5 315L406.3 321.3L403.8 327.5L400 332.5L395 333.1L391.9 333.8L391.9 333.1L395 332.5L399 329L398.5 325L400 320L398.5 318Z" fill="url(#hatch)" stroke="#d4d4d4" stroke-width="0.5"/>
<path d="M406.3 308.8L412 308L418 307L424 308L429 309L433.8 311.3L433.1 314.4L431.9 318.1L432.5 322.5L430.6 323.8L430.6 327.3L431.5 331.3L431.3 332.5L431 336L433 341L429 343L429 350L430 354L426 352L422 350L418 349L414 348L412 340L406 340L400 337L393.8 335.6L391.9 333.8L395 333.1L400 332.5L403.8 327.5L406.3 321.3L407.5 315Z" fill="#7f2704" stroke="#7a6456" stroke-width="0.4"/>
<path d="M393.8 335.6L400 337L406 340L412 340L414 348L418 349L417 354L414 355L414 364L418 366L410 367L400 366L390 365L391 358L394 350L393 342Z" fill="url(#hatch)" stroke="#d4d4d4" stroke-width="0.5"/>
<path d="M418 349L422 350L426 352L430 354L429 350L429 343L433 341L439 345L441 350L439 356L434 359L429 362L424 366L418 366L414 364L414 355L417 354Z" fill="#7f2704" stroke="#7a6456" stroke-width="0.4"/>
<path d="M439 345L441 348L442 356L444 361L442 362L440.4 357L441 350Z" fill="#7f2704" stroke="#7a6456" stroke-width="0.4"/>
<path d="M441 350L442 351L450 350L456 348L456 358L452 364L445 370L442 374L443 380L441 384L436 388L435 384L434 378L437 373L438 367L434 359L439 356L440.4 357L442 362L444 361L442 356L441 348Z" fill="#7f2704" stroke="#7a6456" stroke-width="0.4"/>
<path d="M424 366L429 362L434 359L438 367L437 373L434 378L429 377L425 373L421 368Z" fill="#7f2704" stroke="#7a6456" stroke-width="0.4"/>
<path d="M390 365L400 366L410 367L418 366L424 366L421 368L413 368L411 376L409 388L407 394L402 396L399 390L395 380L392 372Z" fill="url(#hatch)" stroke="#d4d4d4" stroke-width="0.5"/>
<path d="M413 368L421 368L425 373L429 377L426 381L421 384L417 388L413 386L409 388L411 376Z" fill="url(#hatch)" stroke="#d4d4d4" stroke-width="0.5"/>
<path d="M402 396L407 394L409 388L413 386L417 388L421 384L426 381L429 377L434 378L435 384L436 388L434 392L432 398L426 405L418 409L410 410L404 411L402 406L403 401Z" fill="url(#hatch)" stroke="#d4d4d4" stroke-width="0.5"/>
<path d="M423 398L426 396L428 398L425 400.6Z" fill="url(#hatch)" stroke="#d4d4d4" stroke-width="0.5"/>
<path d="M434 386L436 386L436 389L434 389Z" fill="url(#hatch)" stroke="#d4d4d4" stroke-width="0.5"/>
<path d="M476 352L478 357L477 362L474 370L471 378L468 385L464 387L461 384L461 377L463 370L464 364L469 360L473 355Z" fill="#7f2704" stroke="#7a6456" stroke-width="0.4"/>
<path d="M391 331L392.6 331.6L392.4 333.4L391.2 333Z" fill="url(#hatch)" stroke="#d4d4d4" stroke-width="0.5"/>
<path d="M127.7 142.7L117.8 141.3L107.9 139.6L98 141.3L90.9 143.4L83.1 146.2L81.7 149.8L73.9 151.2L71.1 153.3L78.2 154L79.6 155.5L72.5 159L64 161.1L60.5 164L61.9 166.8L66.1 167.5L64 170.3L56.9 173.9L49.8 176.7L44.2 178.8L51.2 177.7L61.2 174.6L71.1 170.3L78.2 167.5L82.4 166.1L88.1 162.5L93.7 164L99.4 165.4L105.1 164L107.2 166.8L111.4 167.5L112.9 171.7L113.6 176L111.6 177.4L111.6 173.2L109.6 169L105.5 166.2Z" fill="#7f2704" stroke="#7a6456" stroke-width="0.4"/>
<path d="M56.9 156.9L60.5 157.3L60 158.4L57.2 157.9Z" fill="#7f2704" stroke="#7a6456" stroke-width="0.4"/>
<path d="M55.5 164.7L58.3 164.9L57.6 166.1Z" fill="#7f2704" stroke="#7a6456" stroke-width="0.4"/>
<path d="M71.1 171.7L76 170.3L76.5 171.7L71.8 173.2Z" fill="#7f2704" stroke="#7a6456" stroke-width="0.4"/>
<path d="M47.7 153.3L52.7 150.5L60.5 145.5L63.3 148.4L67.5 149.8L66.8 151.9L62.6 152.6L60.5 154.7L56.2 154.7L53.4 151.9Z" fill="#fdd0a2" stroke="#7a6456" stroke-width="0.4"/>
<path d="M67.5 139.9L72.5 138.9L72.5 140L68.2 140.9Z" fill="#fdd0a2" stroke="#7a6456" stroke-width="0.4"/>
<path d="M127.7 142.7L133.3 144.2L145 142.5L153.3 141.7L161.7 143.3L168.3 145.8L175 147.5L181.7 145.8L190 147.5L196.7 148.3L203.3 145.8L206.7 141.7L210 139.2L212.5 143.3L213.3 148.3L218.3 145.8L221.7 149.2L220 154.2L213.3 152.5L210 155L203.3 156.7L193.3 161.7L188.3 166.7L190 171.7L196.7 174.2L201.7 177.5L203.3 183.3L205.8 185.8L209.2 183.3L210 177.5L215.8 174.2L219.2 168.3L220 161.7L223.3 159.2L230 160L235 163.3L236.7 167.5L241.7 165.8L244.2 165L246.7 171.7L250.8 176.7L253.3 181.7L251.7 185.8L246.7 187.5L241.7 190L236.7 191.7L230 192.5L225 195L221.5 198L226.7 196.7L231.7 194.2L235 195L231.7 198.3L229.2 200.8L226.7 203.3L225 204.2L224.2 200.8L222.5 196.7L220 199.2L215 201.7L208.3 203.3L201.7 205.8L195.8 208.3L190.8 210L191.7 205L190 200L186.7 196.7L181.7 195L171.7 192.5L113.6 192.5L110 187.3L110.7 181.7L111.6 177.4L113.6 176L112.9 171.7L111.4 167.5L107.2 166.8L105.1 164Z" fill="#fd8d3c" stroke="#7a6456" stroke-width="0.4"/>
<path d="M106.5 189.4L109.3 188L113.6 193L112.2 195.1L108.6 191.6Z" fill="#fd8d3c" stroke="#7a6456" stroke-width="0.4"/>
<path d="M103.7 180.2L106.5 179.5L105.1 183.8L103.4 183.8Z" fill="#fd8d3c" stroke="#7a6456" stroke-width="0.4"/>
<path d="M243.3 195L246.7 191.7L250 188.3L252.5 191.7L255 195.8L253.3 198.3L249.2 196.7L245.8 196.7Z" fill="#fd8d3c" stroke="#7a6456" stroke-width="0.4"/>
<path d="M226.7 203.3L230 205L236.7 200.8L240 197.5L236.7 198.3L233.3 200.8L229.2 200.8Z" fill="#fd8d3c" stroke="#7a6456" stroke-width="0.4"/>
<path d="M220 127.5L225 122.5L233.3 120L243.3 117.5L253.3 117L259.2 118.3L266 117.6L278 118L266 121L256 123.5L250 125L246.7 124.2L243.3 128.3L236.7 129.7L230 128.3L225 129.2Z" fill="#fd8d3c" stroke="#7a6456" stroke-width="0.4"/>
<path d="M175.8 128.3L183.3 126.7L190 127.5L186.7 130L193.3 130.8L198.3 129.2L200 131.7L195 133.3L186.7 132.5L180 130.8Z" fill="#fd8d3c" stroke="#7a6456" stroke-width="0.4"/>
<path d="M205 130L211.7 127.5L216.7 129.2L213.3 131.7L207.5 132.5Z" fill="#fd8d3c" stroke="#7a6456" stroke-width="0.4"/>
<path d="M210 124.2L215.8 123.3L216.7 125.3L210.8 125.8Z" fill="#fd8d3c" stroke="#7a6456" stroke-width="0.4"/>
<path d="M218.3 124.7L221.7 124.2L222 126.3L218.7 126.7Z" fill="#fd8d3c" stroke="#7a6456" stroke-width="0.4"/>
<path d="M199.2 137.5L203.3 135L208.3 136.7L210.8 135L215 136.7L213.3 140L210 139.2L206.7 141.7L201.7 140.8Z" fill="#fd8d3c" stroke="#7a6456" stroke-width="0.4"/>
<path d="M160 137.5L168.3 133.3L175 135L177.5 138.3L171.7 141.7L165 140.8Z" fill="#fd8d3c" stroke="#7a6456" stroke-width="0.4"/>
<path d="M169.2 145L173.3 139.2L181.7 136.7L191.7 137.5L195 140.8L191.7 144.2L198.3 143.3L199.2 145.8L191.7 146.5L183.3 145.2L178.3 146.6L173.3 146.2Z" fill="#fd8d3c" stroke="#7a6456" stroke-width="0.4"/>
<path d="M218.3 131.7L226.7 130L236.7 130.8L240 132.5L233.3 134.2L225 134.2L220 133.3Z" fill="#fd8d3c" stroke="#7a6456" stroke-width="0.4"/>
<path d="M216.7 140L220 136.7L226.7 135L235 135L240 137.5L246.7 140L250.8 144.2L255 148.3L251.7 151.7L248.3 151.7L246.7 155.8L243.3 159.2L239.2 157.5L240 153.3L236.7 150.8L233.3 152.5L228.3 154.2L225.8 151.7L230 149.2L235 147.5L233.3 144.2L229.2 142.5L226.7 145.8L223.3 147.5L220.8 145L218.3 143.3Z" fill="#fd8d3c" stroke="#7a6456" stroke-width="0.4"/>
<path d="M210.8 155L216.7 154.2L219.2 157.5L215 160L211.7 158.3Z" fill="#fd8d3c" stroke="#7a6456" stroke-width="0.4"/>
<path d="M255 127L260 123L270 120L284 118L300 117L320 116.6L334 117.6L346 119.6L338 122L334 128L330 134L324 140L318 145L310 147L300 150L292 155L286 162L283 165L279 164L274 160L271 153L272 146L274 140L271 134L264 130L257 129Z" fill="url(#hatch)" stroke="#d4d4d4" stroke-width="0.5"/>
<path d="M321 152L326 150L334 150L339 152L337 155L330 157L324 156Z" fill="#fff5eb" stroke="#7a6456" stroke-width="0.4"/>
<path d="M113.6 192.5L171.7 192.5L181.7 195L186.7 196.7L190 200L191.7 205L190.8 210L195.8 208.3L201.7 205.8L208.3 203.3L215 201.7L220 199.2L222.5 196.7L224.2 200.8L225 204.2L223 205L216 210L208 214L200 219L198 224L192 230L186 236L182 241L183.6 247L184 252.4L182 254.4L180 250L178 244.4L173 242.4L166 241.6L160 243.6L153 244.4L147 248L144.4 252.4L142 248L139 243L135 243L132 239L123 237.4L113 237L106 235L101 230L99 222L99.6 214L102.2 210L105.1 207.2L109.3 200Z" fill="#7f2704" stroke="#7a6456" stroke-width="0.4"/>
<path d="M9.2 267.5L11.7 268L10.8 270.3L9.2 270Z" fill="#7f2704" stroke="#7a6456" stroke-width="0.4"/>
<path d="M5 263.6L9 265.2L9.2 266.2L5 264.4Z" fill="#7f2704" stroke="#7a6456" stroke-width="0.4"/>
<path d="M106 235L113 237L123 237.4L132 239L135 243L139 243L142 248L144.4 252.4L144 258L143.6 264L147 270L152 272L157 269L161 264.4L167 264.4L163 269L162 273.6L159 273.6L156 276L153 280L151 277L146 279L140 277L132 272.4L126 267L123 261L118 252.4L115 245L113 238L110 238L110 243L112 249L115 256L116 260.4L113 257L110 251L107 243Z" fill="#d94801" stroke="#7a6456" stroke-width="0.4"/>
<path d="M153 280L156 276L159 273.6L162 273.6L161.6 277L159 279L157 282L154 282Z" fill="#d94801" stroke="#7a6456" stroke-width="0.4"/>
<path d="M162 270L163.4 269.6L163.4 273.6L162 273.6Z" fill="url(#hatch)" stroke="#d4d4d4" stroke-width="0.5"/>
<path d="M159 279L161.6 277L164 278.4L172 280L169 282L165 283L162 284.4L160 282.4Z" fill="#d94801" stroke="#7a6456" stroke-width="0.4"/>
<path d="M157 282L159 279L160 282.4L162 284.4L159 285Z" fill="#f16913" stroke="#7a6456" stroke-width="0.4"/>
<path d="M162 284.4L165 283L169 282L172 280.4L171 286L170 290L167 291L164 288Z" fill="url(#hatch)" stroke="#d4d4d4" stroke-width="0.5"/>
<path d="M166 291.6L170 290.4L173 294L175 297L172 297L169 294Z" fill="#fdae6b" stroke="#7a6456" stroke-width="0.4"/>
<path d="M175 297L178 295.6L182 296.6L185 298.4L183 300L180 298.4L177 300Z" fill="#fd8d3c" stroke="#7a6456" stroke-width="0.4"/>
<path d="M172 261L178 259L184 261L190 264L196 267L192 267.6L186 265L180 263L174 263Z" fill="url(#hatch)" stroke="#d4d4d4" stroke-width="0.5"/>
<path d="M188 250L190 250.4L190 254L188.6 253Z" fill="url(#hatch)" stroke="#d4d4d4" stroke-width="0.5"/>
<path d="M197 269L200 268.4L200.6 272.4L198 272Z" fill="url(#hatch)" stroke="#d4d4d4" stroke-width="0.5"/>
<path d="M200 268.4L203 268L207 270L208 272.4L203 273L200.6 272.4Z" fill="#fd8d3c" stroke="#7a6456" stroke-width="0.4"/>
<path d="M185 272.4L189 272L189.6 273.6L186 274Z" fill="#fdae6b" stroke="#7a6456" stroke-width="0.4"/>
<path d="M211 272L213.6 272L213.6 273.2L211 273.2Z" fill="url(#hatch)" stroke="#d4d4d4" stroke-width="0.5"/>
<path d="M185 300L189 294L195 290L199 288.4L196.4 295L198 300L205 302L208 307L207.6 313L209 317L203 316L202.4 323L201 328L198 326.4L193 322.4L189 320L184 318L181 316L184 310L186 305Z" fill="#a63603" stroke="#7a6456" stroke-width="0.4"/>
<path d="M199 288.4L204 290L210 292L218 292.4L223 294L227 298.4L226 302L229 306L224 307L219 310.4L214.4 310L214 316L209 317L207.6 313L208 307L205 302L198 300L196.4 295Z" fill="url(#hatch)" stroke="#d4d4d4" stroke-width="0.5"/>
<path d="M227 298.4L231 302L232 306L230 310L231 315L229 316L226 312L224 307L229 306L226 302Z" fill="url(#hatch)" stroke="#d4d4d4" stroke-width="0.5"/>
<path d="M230 305.6L237 304.4L239 308L237 314L234 315L231 315L230 310L232 306Z" fill="#fdd0a2" stroke="#7a6456" stroke-width="0.4"/>
<path d="M237 304.4L239 305.6L244 309L242 314L237 314L239 308Z" fill="url(#hatch)" stroke="#d4d4d4" stroke-width="0.5"/>
<path d="M181 316L184 318L189 320L187 325L183 330L180 332.4L178 329.6L177 323L178 319Z" fill="#d94801" stroke="#7a6456" stroke-width="0.4"/>
<path d="M189 320L193 322.4L198 326.4L201 328L197 333L194 337L195 342L201 348L204 349L203 355L204 362L204.4 367.6L201 365L193 359L187 352L182 342L176 333L178 329.6L180 332.4L183 330L187 325Z" fill="#d94801" stroke="#7a6456" stroke-width="0.4"/>
<path d="M202.4 323L203 316L209 317L214 316L214.4 310L219 310.4L224 307L226 312L229 316L231 315L234 315L237 314L242 314L244 310L248 315L249 319L252 321L260 323L270 327L278 331L282 335L283 340L280 347L275 354L274 362L272 370L270 378L263 381L258 384L255 390L253 400L250 405L246.4 407L244 402L239 399L242.4 392L242 388L240 382L237 379L233 376L232.4 370L231 365L227 362L223 356L214 351L208 346L204 349L201 348L195 342L194 337L197 333L201 328Z" fill="#7f2704" stroke="#7a6456" stroke-width="0.4"/>
<path d="M204 349L208 346L214 351L223 356L227 362L231 365L232.4 370L227 370.4L223 372.4L222 378L218 378.4L216 377.6L212 379L209 378L207 372L204.4 367.6L204 362L203 355Z" fill="#f16913" stroke="#7a6456" stroke-width="0.4"/>
<path d="M223 372.4L227 370.4L232.4 370L233 376L237 379L240 382L242 388L240 391L236 390L234 385L228 381L223 378L222 378Z" fill="#fd8d3c" stroke="#7a6456" stroke-width="0.4"/>
<path d="M204.4 367.6L207 372L209 378L212 379L211 382L210 390L209.6 400L210 410L211 420L212 430L215 438L216.4 447L219 453L223 456L228 458L233 461L234 463.6L228 462L220 457L213 449L209 438L207 428L205 418L204.4 406L204 394L203.6 382L204 370Z" fill="#fd8d3c" stroke="#7a6456" stroke-width="0.4"/>
<path d="M212 379L216 377.6L218 378.4L223 378L228 381L234 385L236 390L240 391L242 388L242.4 392L239 396L236 400L235.6 406L239 411L240.4 416L237 420L231 422L229 427L226 430L228 436L227 442L229 446L228 452L226 456L223 456L219 453L216.4 447L215 438L212 430L211 420L210 410L209.6 400L210 390L211 382Z" fill="url(#hatch)" stroke="#d4d4d4" stroke-width="0.5"/>
<path d="M227 457L230 459L234 462L233 461L228 458Z" fill="url(#hatch)" stroke="#d4d4d4" stroke-width="0.5"/>
<path d="M236 400L239 399L244 402L246.4 407L245 411L240 411.6L236 409L235.6 404Z" fill="#fee6ce" stroke="#7a6456" stroke-width="0.4"/>
</g>
<!-- legend -->
<g id="legend">
<rect x="36.5" y="501.5" width="47.5" height="11" fill="url(#hatch)" stroke="#a8a8a8" stroke-width="0.6"/>
<line x1="60.5" y1="498" x2="60.5" y2="501.5" stroke="#b0b0b0" stroke-width="0.6"/>
<rect x="103.5" y="501.5" width="79" height="11" fill="#fff5eb"/>
<rect x="182.5" y="501.5" width="79" height="11" fill="#fee6ce"/>
<rect x="261.5" y="501.5" width="79" height="11" fill="#fdd0a2"/>
<rect x="340.5" y="501.5" width="79" height="11" fill="#fdae6b"/>
<rect x="419.5" y="501.5" width="79" height="11" fill="#fd8d3c"/>
<rect x="498.5" y="501.5" width="79" height="11" fill="#f16913"/>
<rect x="577.5" y="501.5" width="79" height="11" fill="#d94801"/>
<rect x="656.5" y="501.5" width="79" height="11" fill="#a63603"/>
<path d="M734.5 501.5H808.5L813.5 507L808.5 512.5H734.5Z" fill="#7f2704"/>
<path d="M103.5 501.5H808.5L813.5 507L808.5 512.5H103.5Z" fill="none" stroke="#b0b0b0" stroke-width="0.5"/>
<g stroke="#000" stroke-opacity="0.32" stroke-width="0.6"><line x1="103.5" y1="498" x2="103.5" y2="512.5"/><line x1="182.5" y1="498" x2="182.5" y2="512.5"/><line x1="261.5" y1="498" x2="261.5" y2="512.5"/><line x1="340.5" y1="498" x2="340.5" y2="512.5"/><line x1="419.5" y1="498" x2="419.5" y2="512.5"/><line x1="498.5" y1="498" x2="498.5" y2="512.5"/><line x1="577.5" y1="498" x2="577.5" y2="512.5"/><line x1="656.5" y1="498" x2="656.5" y2="512.5"/><line x1="734.5" y1="498" x2="734.5" y2="512.5"/></g>
</g>
</svg>
<div class="abs lg" style="left:37.5px;letter-spacing:0" id="l0">No data</div>
<div class="abs lg lc" style="left:104px" id="l1">$0</div>
<div class="abs lg lc" style="left:183px" id="l2">$1 million</div>
<div class="abs lg lc" style="left:262px" id="l3">$3 million</div>
<div class="abs lg lc" style="left:341px" id="l4">$10 million</div>
<div class="abs lg lc" style="left:420px" id="l5">$30 million</div>
<div class="abs lg lc" style="left:499px" id="l6">$100 million</div>
<div class="abs lg lc" style="left:578px" id="l7">$300 million</div>
<div class="abs lg lc" style="left:657px" id="l8">$1 billion</div>
<div class="abs lg lc" style="left:735px" id="l9">$3 billion</div>
<style>.lc{transform:translateX(-50%);}</style>
<div class="abs ft" style="left:17px;top:532.8px;letter-spacing:0.165px" id="f1"><b style="letter-spacing:-0.3px">Data source:</b> World Bank Poverty and Inequality Platform (2025)</div>
<div class="abs ft" style="right:17px;top:532.8px;letter-spacing:0.22px" id="f2">OurWorldinData.org/poverty | CC BY</div>
<div class="abs ft" style="left:17px;top:552.8px;letter-spacing:0.134px" id="f3"><b>Note:</b> This data is expressed in international-$ at 2021 prices. This shortfall does not take into account costs and inefficiencies from making</div>
<div class="abs ft" style="left:17px;top:568.7px" id="f4">the necessary transfers.</div>
</body></html>
